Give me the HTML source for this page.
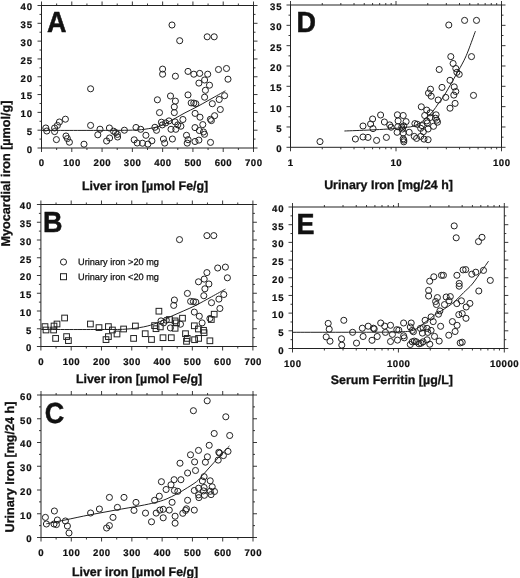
<!DOCTYPE html>
<html><head><meta charset="utf-8"><title>Figure</title>
<style>html,body{margin:0;padding:0;background:#fff}svg{display:block}text{font-family:"Liberation Sans",sans-serif;fill:#111;text-rendering:geometricPrecision}</style>
</head><body>
<svg width="520" height="578" viewBox="0 0 520 578">
<rect width="520" height="578" fill="#fff"/>
<rect x="41.5" y="5.5" width="212.0" height="142.5" fill="none" stroke="#222" stroke-width="1"/>
<line x1="37.50" y1="148.00" x2="41.50" y2="148.00" stroke="#222" stroke-width="0.9"/>
<line x1="253.50" y1="148.00" x2="257.50" y2="148.00" stroke="#222" stroke-width="0.9"/>
<text x="32.90" y="152.80" font-size="9.6" text-anchor="end" font-weight="bold" letter-spacing="0.9" stroke="#111" stroke-width="0.22">0</text>
<line x1="39.50" y1="139.09" x2="41.50" y2="139.09" stroke="#222" stroke-width="0.9"/>
<line x1="253.50" y1="139.09" x2="255.50" y2="139.09" stroke="#222" stroke-width="0.9"/>
<line x1="37.50" y1="130.19" x2="41.50" y2="130.19" stroke="#222" stroke-width="0.9"/>
<line x1="253.50" y1="130.19" x2="257.50" y2="130.19" stroke="#222" stroke-width="0.9"/>
<text x="32.90" y="134.99" font-size="9.6" text-anchor="end" font-weight="bold" letter-spacing="0.9" stroke="#111" stroke-width="0.22">5</text>
<line x1="39.50" y1="121.28" x2="41.50" y2="121.28" stroke="#222" stroke-width="0.9"/>
<line x1="253.50" y1="121.28" x2="255.50" y2="121.28" stroke="#222" stroke-width="0.9"/>
<line x1="37.50" y1="112.38" x2="41.50" y2="112.38" stroke="#222" stroke-width="0.9"/>
<line x1="253.50" y1="112.38" x2="257.50" y2="112.38" stroke="#222" stroke-width="0.9"/>
<text x="32.90" y="117.17" font-size="9.6" text-anchor="end" font-weight="bold" letter-spacing="0.9" stroke="#111" stroke-width="0.22">10</text>
<line x1="39.50" y1="103.47" x2="41.50" y2="103.47" stroke="#222" stroke-width="0.9"/>
<line x1="253.50" y1="103.47" x2="255.50" y2="103.47" stroke="#222" stroke-width="0.9"/>
<line x1="37.50" y1="94.56" x2="41.50" y2="94.56" stroke="#222" stroke-width="0.9"/>
<line x1="253.50" y1="94.56" x2="257.50" y2="94.56" stroke="#222" stroke-width="0.9"/>
<text x="32.90" y="99.36" font-size="9.6" text-anchor="end" font-weight="bold" letter-spacing="0.9" stroke="#111" stroke-width="0.22">15</text>
<line x1="39.50" y1="85.66" x2="41.50" y2="85.66" stroke="#222" stroke-width="0.9"/>
<line x1="253.50" y1="85.66" x2="255.50" y2="85.66" stroke="#222" stroke-width="0.9"/>
<line x1="37.50" y1="76.75" x2="41.50" y2="76.75" stroke="#222" stroke-width="0.9"/>
<line x1="253.50" y1="76.75" x2="257.50" y2="76.75" stroke="#222" stroke-width="0.9"/>
<text x="32.90" y="81.55" font-size="9.6" text-anchor="end" font-weight="bold" letter-spacing="0.9" stroke="#111" stroke-width="0.22">20</text>
<line x1="39.50" y1="67.84" x2="41.50" y2="67.84" stroke="#222" stroke-width="0.9"/>
<line x1="253.50" y1="67.84" x2="255.50" y2="67.84" stroke="#222" stroke-width="0.9"/>
<line x1="37.50" y1="58.94" x2="41.50" y2="58.94" stroke="#222" stroke-width="0.9"/>
<line x1="253.50" y1="58.94" x2="257.50" y2="58.94" stroke="#222" stroke-width="0.9"/>
<text x="32.90" y="63.74" font-size="9.6" text-anchor="end" font-weight="bold" letter-spacing="0.9" stroke="#111" stroke-width="0.22">25</text>
<line x1="39.50" y1="50.03" x2="41.50" y2="50.03" stroke="#222" stroke-width="0.9"/>
<line x1="253.50" y1="50.03" x2="255.50" y2="50.03" stroke="#222" stroke-width="0.9"/>
<line x1="37.50" y1="41.12" x2="41.50" y2="41.12" stroke="#222" stroke-width="0.9"/>
<line x1="253.50" y1="41.12" x2="257.50" y2="41.12" stroke="#222" stroke-width="0.9"/>
<text x="32.90" y="45.92" font-size="9.6" text-anchor="end" font-weight="bold" letter-spacing="0.9" stroke="#111" stroke-width="0.22">30</text>
<line x1="39.50" y1="32.22" x2="41.50" y2="32.22" stroke="#222" stroke-width="0.9"/>
<line x1="253.50" y1="32.22" x2="255.50" y2="32.22" stroke="#222" stroke-width="0.9"/>
<line x1="37.50" y1="23.31" x2="41.50" y2="23.31" stroke="#222" stroke-width="0.9"/>
<line x1="253.50" y1="23.31" x2="257.50" y2="23.31" stroke="#222" stroke-width="0.9"/>
<text x="32.90" y="28.11" font-size="9.6" text-anchor="end" font-weight="bold" letter-spacing="0.9" stroke="#111" stroke-width="0.22">35</text>
<line x1="39.50" y1="14.41" x2="41.50" y2="14.41" stroke="#222" stroke-width="0.9"/>
<line x1="253.50" y1="14.41" x2="255.50" y2="14.41" stroke="#222" stroke-width="0.9"/>
<line x1="37.50" y1="5.50" x2="41.50" y2="5.50" stroke="#222" stroke-width="0.9"/>
<line x1="253.50" y1="5.50" x2="257.50" y2="5.50" stroke="#222" stroke-width="0.9"/>
<text x="32.90" y="10.30" font-size="9.6" text-anchor="end" font-weight="bold" letter-spacing="0.9" stroke="#111" stroke-width="0.22">40</text>
<line x1="41.50" y1="1.50" x2="41.50" y2="5.50" stroke="#222" stroke-width="0.9"/>
<line x1="41.50" y1="148.00" x2="41.50" y2="152.00" stroke="#222" stroke-width="0.9"/>
<text x="41.75" y="166.30" font-size="9.6" text-anchor="middle" font-weight="bold" letter-spacing="0.5" stroke="#111" stroke-width="0.22">0</text>
<line x1="56.64" y1="3.50" x2="56.64" y2="5.50" stroke="#222" stroke-width="0.9"/>
<line x1="56.64" y1="148.00" x2="56.64" y2="150.00" stroke="#222" stroke-width="0.9"/>
<line x1="71.79" y1="1.50" x2="71.79" y2="5.50" stroke="#222" stroke-width="0.9"/>
<line x1="71.79" y1="148.00" x2="71.79" y2="152.00" stroke="#222" stroke-width="0.9"/>
<text x="72.04" y="166.30" font-size="9.6" text-anchor="middle" font-weight="bold" letter-spacing="0.5" stroke="#111" stroke-width="0.22">100</text>
<line x1="86.93" y1="3.50" x2="86.93" y2="5.50" stroke="#222" stroke-width="0.9"/>
<line x1="86.93" y1="148.00" x2="86.93" y2="150.00" stroke="#222" stroke-width="0.9"/>
<line x1="102.07" y1="1.50" x2="102.07" y2="5.50" stroke="#222" stroke-width="0.9"/>
<line x1="102.07" y1="148.00" x2="102.07" y2="152.00" stroke="#222" stroke-width="0.9"/>
<text x="102.32" y="166.30" font-size="9.6" text-anchor="middle" font-weight="bold" letter-spacing="0.5" stroke="#111" stroke-width="0.22">200</text>
<line x1="117.21" y1="3.50" x2="117.21" y2="5.50" stroke="#222" stroke-width="0.9"/>
<line x1="117.21" y1="148.00" x2="117.21" y2="150.00" stroke="#222" stroke-width="0.9"/>
<line x1="132.36" y1="1.50" x2="132.36" y2="5.50" stroke="#222" stroke-width="0.9"/>
<line x1="132.36" y1="148.00" x2="132.36" y2="152.00" stroke="#222" stroke-width="0.9"/>
<text x="132.61" y="166.30" font-size="9.6" text-anchor="middle" font-weight="bold" letter-spacing="0.5" stroke="#111" stroke-width="0.22">300</text>
<line x1="147.50" y1="3.50" x2="147.50" y2="5.50" stroke="#222" stroke-width="0.9"/>
<line x1="147.50" y1="148.00" x2="147.50" y2="150.00" stroke="#222" stroke-width="0.9"/>
<line x1="162.64" y1="1.50" x2="162.64" y2="5.50" stroke="#222" stroke-width="0.9"/>
<line x1="162.64" y1="148.00" x2="162.64" y2="152.00" stroke="#222" stroke-width="0.9"/>
<text x="162.89" y="166.30" font-size="9.6" text-anchor="middle" font-weight="bold" letter-spacing="0.5" stroke="#111" stroke-width="0.22">400</text>
<line x1="177.79" y1="3.50" x2="177.79" y2="5.50" stroke="#222" stroke-width="0.9"/>
<line x1="177.79" y1="148.00" x2="177.79" y2="150.00" stroke="#222" stroke-width="0.9"/>
<line x1="192.93" y1="1.50" x2="192.93" y2="5.50" stroke="#222" stroke-width="0.9"/>
<line x1="192.93" y1="148.00" x2="192.93" y2="152.00" stroke="#222" stroke-width="0.9"/>
<text x="193.18" y="166.30" font-size="9.6" text-anchor="middle" font-weight="bold" letter-spacing="0.5" stroke="#111" stroke-width="0.22">500</text>
<line x1="208.07" y1="3.50" x2="208.07" y2="5.50" stroke="#222" stroke-width="0.9"/>
<line x1="208.07" y1="148.00" x2="208.07" y2="150.00" stroke="#222" stroke-width="0.9"/>
<line x1="223.21" y1="1.50" x2="223.21" y2="5.50" stroke="#222" stroke-width="0.9"/>
<line x1="223.21" y1="148.00" x2="223.21" y2="152.00" stroke="#222" stroke-width="0.9"/>
<text x="223.46" y="166.30" font-size="9.6" text-anchor="middle" font-weight="bold" letter-spacing="0.5" stroke="#111" stroke-width="0.22">600</text>
<line x1="238.36" y1="3.50" x2="238.36" y2="5.50" stroke="#222" stroke-width="0.9"/>
<line x1="238.36" y1="148.00" x2="238.36" y2="150.00" stroke="#222" stroke-width="0.9"/>
<line x1="253.50" y1="1.50" x2="253.50" y2="5.50" stroke="#222" stroke-width="0.9"/>
<line x1="253.50" y1="148.00" x2="253.50" y2="152.00" stroke="#222" stroke-width="0.9"/>
<text x="253.75" y="166.30" font-size="9.6" text-anchor="middle" font-weight="bold" letter-spacing="0.5" stroke="#111" stroke-width="0.22">700</text>
<text transform="translate(46.90,31.90) scale(0.93,1)" font-size="29" text-anchor="start" font-weight="bold"  stroke="#111" stroke-width="0.5">A</text>
<text x="145.10" y="190.30" font-size="12.4" text-anchor="middle" font-weight="bold"  stroke="#111" stroke-width="0.3">Liver iron [µmol Fe/g]</text>
<circle cx="90.60" cy="88.80" r="3.05" fill="none" stroke="#222" stroke-width="1"/>
<circle cx="45.80" cy="128.00" r="3.05" fill="none" stroke="#222" stroke-width="1"/>
<circle cx="46.80" cy="131.00" r="3.05" fill="none" stroke="#222" stroke-width="1"/>
<circle cx="54.60" cy="128.00" r="3.05" fill="none" stroke="#222" stroke-width="1"/>
<circle cx="54.60" cy="131.60" r="3.05" fill="none" stroke="#222" stroke-width="1"/>
<circle cx="57.40" cy="125.40" r="3.05" fill="none" stroke="#222" stroke-width="1"/>
<circle cx="59.40" cy="122.00" r="3.05" fill="none" stroke="#222" stroke-width="1"/>
<circle cx="65.40" cy="119.20" r="3.05" fill="none" stroke="#222" stroke-width="1"/>
<circle cx="56.40" cy="139.60" r="3.05" fill="none" stroke="#222" stroke-width="1"/>
<circle cx="66.00" cy="136.00" r="3.05" fill="none" stroke="#222" stroke-width="1"/>
<circle cx="67.40" cy="138.60" r="3.05" fill="none" stroke="#222" stroke-width="1"/>
<circle cx="69.40" cy="142.20" r="3.05" fill="none" stroke="#222" stroke-width="1"/>
<circle cx="84.00" cy="144.20" r="3.05" fill="none" stroke="#222" stroke-width="1"/>
<circle cx="90.60" cy="125.40" r="3.05" fill="none" stroke="#222" stroke-width="1"/>
<circle cx="100.00" cy="129.20" r="3.05" fill="none" stroke="#222" stroke-width="1"/>
<circle cx="97.80" cy="134.80" r="3.05" fill="none" stroke="#222" stroke-width="1"/>
<circle cx="109.40" cy="128.00" r="3.05" fill="none" stroke="#222" stroke-width="1"/>
<circle cx="113.60" cy="131.20" r="3.05" fill="none" stroke="#222" stroke-width="1"/>
<circle cx="115.60" cy="132.60" r="3.05" fill="none" stroke="#222" stroke-width="1"/>
<circle cx="117.40" cy="134.40" r="3.05" fill="none" stroke="#222" stroke-width="1"/>
<circle cx="117.60" cy="137.00" r="3.05" fill="none" stroke="#222" stroke-width="1"/>
<circle cx="109.60" cy="138.00" r="3.05" fill="none" stroke="#222" stroke-width="1"/>
<circle cx="106.60" cy="141.00" r="3.05" fill="none" stroke="#222" stroke-width="1"/>
<circle cx="124.40" cy="130.20" r="3.05" fill="none" stroke="#222" stroke-width="1"/>
<circle cx="136.00" cy="127.50" r="3.05" fill="none" stroke="#222" stroke-width="1"/>
<circle cx="140.70" cy="129.30" r="3.05" fill="none" stroke="#222" stroke-width="1"/>
<circle cx="134.20" cy="139.80" r="3.05" fill="none" stroke="#222" stroke-width="1"/>
<circle cx="137.20" cy="143.00" r="3.05" fill="none" stroke="#222" stroke-width="1"/>
<circle cx="142.50" cy="143.20" r="3.05" fill="none" stroke="#222" stroke-width="1"/>
<circle cx="145.90" cy="135.30" r="3.05" fill="none" stroke="#222" stroke-width="1"/>
<circle cx="147.90" cy="144.10" r="3.05" fill="none" stroke="#222" stroke-width="1"/>
<circle cx="151.90" cy="140.80" r="3.05" fill="none" stroke="#222" stroke-width="1"/>
<circle cx="154.90" cy="127.30" r="3.05" fill="none" stroke="#222" stroke-width="1"/>
<circle cx="156.50" cy="130.30" r="3.05" fill="none" stroke="#222" stroke-width="1"/>
<circle cx="161.40" cy="122.20" r="3.05" fill="none" stroke="#222" stroke-width="1"/>
<circle cx="162.30" cy="124.90" r="3.05" fill="none" stroke="#222" stroke-width="1"/>
<circle cx="165.70" cy="122.90" r="3.05" fill="none" stroke="#222" stroke-width="1"/>
<circle cx="169.00" cy="120.90" r="3.05" fill="none" stroke="#222" stroke-width="1"/>
<circle cx="163.40" cy="139.00" r="3.05" fill="none" stroke="#222" stroke-width="1"/>
<circle cx="164.70" cy="143.10" r="3.05" fill="none" stroke="#222" stroke-width="1"/>
<circle cx="172.40" cy="139.00" r="3.05" fill="none" stroke="#222" stroke-width="1"/>
<circle cx="171.00" cy="129.30" r="3.05" fill="none" stroke="#222" stroke-width="1"/>
<circle cx="175.80" cy="129.30" r="3.05" fill="none" stroke="#222" stroke-width="1"/>
<circle cx="175.10" cy="121.90" r="3.05" fill="none" stroke="#222" stroke-width="1"/>
<circle cx="177.80" cy="124.90" r="3.05" fill="none" stroke="#222" stroke-width="1"/>
<circle cx="180.90" cy="126.20" r="3.05" fill="none" stroke="#222" stroke-width="1"/>
<circle cx="182.90" cy="119.50" r="3.05" fill="none" stroke="#222" stroke-width="1"/>
<circle cx="186.50" cy="135.30" r="3.05" fill="none" stroke="#222" stroke-width="1"/>
<circle cx="188.10" cy="139.70" r="3.05" fill="none" stroke="#222" stroke-width="1"/>
<circle cx="187.20" cy="143.10" r="3.05" fill="none" stroke="#222" stroke-width="1"/>
<circle cx="195.00" cy="127.60" r="3.05" fill="none" stroke="#222" stroke-width="1"/>
<circle cx="195.00" cy="141.50" r="3.05" fill="none" stroke="#222" stroke-width="1"/>
<circle cx="198.90" cy="140.10" r="3.05" fill="none" stroke="#222" stroke-width="1"/>
<circle cx="199.30" cy="130.50" r="3.05" fill="none" stroke="#222" stroke-width="1"/>
<circle cx="202.80" cy="124.60" r="3.05" fill="none" stroke="#222" stroke-width="1"/>
<circle cx="203.50" cy="132.00" r="3.05" fill="none" stroke="#222" stroke-width="1"/>
<circle cx="204.50" cy="134.30" r="3.05" fill="none" stroke="#222" stroke-width="1"/>
<circle cx="210.50" cy="142.40" r="3.05" fill="none" stroke="#222" stroke-width="1"/>
<circle cx="172.00" cy="25.00" r="3.05" fill="none" stroke="#222" stroke-width="1"/>
<circle cx="179.70" cy="40.70" r="3.05" fill="none" stroke="#222" stroke-width="1"/>
<circle cx="207.20" cy="36.80" r="3.05" fill="none" stroke="#222" stroke-width="1"/>
<circle cx="214.20" cy="36.80" r="3.05" fill="none" stroke="#222" stroke-width="1"/>
<circle cx="162.60" cy="69.10" r="3.05" fill="none" stroke="#222" stroke-width="1"/>
<circle cx="162.60" cy="74.20" r="3.05" fill="none" stroke="#222" stroke-width="1"/>
<circle cx="175.40" cy="76.20" r="3.05" fill="none" stroke="#222" stroke-width="1"/>
<circle cx="188.00" cy="71.40" r="3.05" fill="none" stroke="#222" stroke-width="1"/>
<circle cx="193.80" cy="74.20" r="3.05" fill="none" stroke="#222" stroke-width="1"/>
<circle cx="199.70" cy="73.40" r="3.05" fill="none" stroke="#222" stroke-width="1"/>
<circle cx="207.70" cy="74.20" r="3.05" fill="none" stroke="#222" stroke-width="1"/>
<circle cx="204.60" cy="80.00" r="3.05" fill="none" stroke="#222" stroke-width="1"/>
<circle cx="198.90" cy="83.10" r="3.05" fill="none" stroke="#222" stroke-width="1"/>
<circle cx="209.50" cy="85.20" r="3.05" fill="none" stroke="#222" stroke-width="1"/>
<circle cx="205.40" cy="90.30" r="3.05" fill="none" stroke="#222" stroke-width="1"/>
<circle cx="204.60" cy="97.20" r="3.05" fill="none" stroke="#222" stroke-width="1"/>
<circle cx="218.50" cy="69.50" r="3.05" fill="none" stroke="#222" stroke-width="1"/>
<circle cx="226.50" cy="68.50" r="3.05" fill="none" stroke="#222" stroke-width="1"/>
<circle cx="228.00" cy="79.20" r="3.05" fill="none" stroke="#222" stroke-width="1"/>
<circle cx="224.60" cy="95.70" r="3.05" fill="none" stroke="#222" stroke-width="1"/>
<circle cx="219.20" cy="99.50" r="3.05" fill="none" stroke="#222" stroke-width="1"/>
<circle cx="212.30" cy="103.70" r="3.05" fill="none" stroke="#222" stroke-width="1"/>
<circle cx="220.30" cy="109.50" r="3.05" fill="none" stroke="#222" stroke-width="1"/>
<circle cx="214.60" cy="115.70" r="3.05" fill="none" stroke="#222" stroke-width="1"/>
<circle cx="210.40" cy="119.30" r="3.05" fill="none" stroke="#222" stroke-width="1"/>
<circle cx="211.40" cy="120.60" r="3.05" fill="none" stroke="#222" stroke-width="1"/>
<circle cx="188.00" cy="94.90" r="3.05" fill="none" stroke="#222" stroke-width="1"/>
<circle cx="191.20" cy="102.90" r="3.05" fill="none" stroke="#222" stroke-width="1"/>
<circle cx="193.80" cy="103.10" r="3.05" fill="none" stroke="#222" stroke-width="1"/>
<circle cx="195.80" cy="103.70" r="3.05" fill="none" stroke="#222" stroke-width="1"/>
<circle cx="195.10" cy="113.40" r="3.05" fill="none" stroke="#222" stroke-width="1"/>
<circle cx="200.00" cy="117.20" r="3.05" fill="none" stroke="#222" stroke-width="1"/>
<circle cx="170.50" cy="96.00" r="3.05" fill="none" stroke="#222" stroke-width="1"/>
<circle cx="175.40" cy="101.10" r="3.05" fill="none" stroke="#222" stroke-width="1"/>
<circle cx="174.30" cy="106.90" r="3.05" fill="none" stroke="#222" stroke-width="1"/>
<circle cx="174.30" cy="112.60" r="3.05" fill="none" stroke="#222" stroke-width="1"/>
<circle cx="157.40" cy="99.80" r="3.05" fill="none" stroke="#222" stroke-width="1"/>
<circle cx="159.50" cy="112.60" r="3.05" fill="none" stroke="#222" stroke-width="1"/>
<path d="M42.00,130.40 C51.67,130.40 85.33,130.43 100.00,130.40 C114.67,130.37 122.50,130.40 130.00,130.20 C137.50,130.00 140.00,129.90 145.00,129.20 C150.00,128.50 155.33,127.62 160.00,126.00 C164.67,124.38 168.83,121.70 173.00,119.50 C177.17,117.30 181.13,114.85 185.00,112.80 C188.87,110.75 192.03,109.42 196.20,107.20 C200.37,104.98 205.13,102.23 210.00,99.50 C214.87,96.77 222.83,92.25 225.40,90.80" fill="none" stroke="#222" stroke-width="1"/>
<rect x="40.9" y="204.5" width="212.0" height="142.0" fill="none" stroke="#222" stroke-width="1"/>
<line x1="36.90" y1="346.50" x2="40.90" y2="346.50" stroke="#222" stroke-width="0.9"/>
<line x1="252.90" y1="346.50" x2="256.90" y2="346.50" stroke="#222" stroke-width="0.9"/>
<text x="32.30" y="351.30" font-size="9.6" text-anchor="end" font-weight="bold" letter-spacing="0.9" stroke="#111" stroke-width="0.22">0</text>
<line x1="38.90" y1="337.62" x2="40.90" y2="337.62" stroke="#222" stroke-width="0.9"/>
<line x1="252.90" y1="337.62" x2="254.90" y2="337.62" stroke="#222" stroke-width="0.9"/>
<line x1="36.90" y1="328.75" x2="40.90" y2="328.75" stroke="#222" stroke-width="0.9"/>
<line x1="252.90" y1="328.75" x2="256.90" y2="328.75" stroke="#222" stroke-width="0.9"/>
<text x="32.30" y="333.55" font-size="9.6" text-anchor="end" font-weight="bold" letter-spacing="0.9" stroke="#111" stroke-width="0.22">5</text>
<line x1="38.90" y1="319.88" x2="40.90" y2="319.88" stroke="#222" stroke-width="0.9"/>
<line x1="252.90" y1="319.88" x2="254.90" y2="319.88" stroke="#222" stroke-width="0.9"/>
<line x1="36.90" y1="311.00" x2="40.90" y2="311.00" stroke="#222" stroke-width="0.9"/>
<line x1="252.90" y1="311.00" x2="256.90" y2="311.00" stroke="#222" stroke-width="0.9"/>
<text x="32.30" y="315.80" font-size="9.6" text-anchor="end" font-weight="bold" letter-spacing="0.9" stroke="#111" stroke-width="0.22">10</text>
<line x1="38.90" y1="302.12" x2="40.90" y2="302.12" stroke="#222" stroke-width="0.9"/>
<line x1="252.90" y1="302.12" x2="254.90" y2="302.12" stroke="#222" stroke-width="0.9"/>
<line x1="36.90" y1="293.25" x2="40.90" y2="293.25" stroke="#222" stroke-width="0.9"/>
<line x1="252.90" y1="293.25" x2="256.90" y2="293.25" stroke="#222" stroke-width="0.9"/>
<text x="32.30" y="298.05" font-size="9.6" text-anchor="end" font-weight="bold" letter-spacing="0.9" stroke="#111" stroke-width="0.22">15</text>
<line x1="38.90" y1="284.38" x2="40.90" y2="284.38" stroke="#222" stroke-width="0.9"/>
<line x1="252.90" y1="284.38" x2="254.90" y2="284.38" stroke="#222" stroke-width="0.9"/>
<line x1="36.90" y1="275.50" x2="40.90" y2="275.50" stroke="#222" stroke-width="0.9"/>
<line x1="252.90" y1="275.50" x2="256.90" y2="275.50" stroke="#222" stroke-width="0.9"/>
<text x="32.30" y="280.30" font-size="9.6" text-anchor="end" font-weight="bold" letter-spacing="0.9" stroke="#111" stroke-width="0.22">20</text>
<line x1="38.90" y1="266.62" x2="40.90" y2="266.62" stroke="#222" stroke-width="0.9"/>
<line x1="252.90" y1="266.62" x2="254.90" y2="266.62" stroke="#222" stroke-width="0.9"/>
<line x1="36.90" y1="257.75" x2="40.90" y2="257.75" stroke="#222" stroke-width="0.9"/>
<line x1="252.90" y1="257.75" x2="256.90" y2="257.75" stroke="#222" stroke-width="0.9"/>
<text x="32.30" y="262.55" font-size="9.6" text-anchor="end" font-weight="bold" letter-spacing="0.9" stroke="#111" stroke-width="0.22">25</text>
<line x1="38.90" y1="248.88" x2="40.90" y2="248.88" stroke="#222" stroke-width="0.9"/>
<line x1="252.90" y1="248.88" x2="254.90" y2="248.88" stroke="#222" stroke-width="0.9"/>
<line x1="36.90" y1="240.00" x2="40.90" y2="240.00" stroke="#222" stroke-width="0.9"/>
<line x1="252.90" y1="240.00" x2="256.90" y2="240.00" stroke="#222" stroke-width="0.9"/>
<text x="32.30" y="244.80" font-size="9.6" text-anchor="end" font-weight="bold" letter-spacing="0.9" stroke="#111" stroke-width="0.22">30</text>
<line x1="38.90" y1="231.12" x2="40.90" y2="231.12" stroke="#222" stroke-width="0.9"/>
<line x1="252.90" y1="231.12" x2="254.90" y2="231.12" stroke="#222" stroke-width="0.9"/>
<line x1="36.90" y1="222.25" x2="40.90" y2="222.25" stroke="#222" stroke-width="0.9"/>
<line x1="252.90" y1="222.25" x2="256.90" y2="222.25" stroke="#222" stroke-width="0.9"/>
<text x="32.30" y="227.05" font-size="9.6" text-anchor="end" font-weight="bold" letter-spacing="0.9" stroke="#111" stroke-width="0.22">35</text>
<line x1="38.90" y1="213.38" x2="40.90" y2="213.38" stroke="#222" stroke-width="0.9"/>
<line x1="252.90" y1="213.38" x2="254.90" y2="213.38" stroke="#222" stroke-width="0.9"/>
<line x1="36.90" y1="204.50" x2="40.90" y2="204.50" stroke="#222" stroke-width="0.9"/>
<line x1="252.90" y1="204.50" x2="256.90" y2="204.50" stroke="#222" stroke-width="0.9"/>
<text x="32.30" y="209.30" font-size="9.6" text-anchor="end" font-weight="bold" letter-spacing="0.9" stroke="#111" stroke-width="0.22">40</text>
<line x1="40.90" y1="200.50" x2="40.90" y2="204.50" stroke="#222" stroke-width="0.9"/>
<line x1="40.90" y1="346.50" x2="40.90" y2="350.50" stroke="#222" stroke-width="0.9"/>
<text x="41.15" y="364.80" font-size="9.6" text-anchor="middle" font-weight="bold" letter-spacing="0.5" stroke="#111" stroke-width="0.22">0</text>
<line x1="56.04" y1="202.50" x2="56.04" y2="204.50" stroke="#222" stroke-width="0.9"/>
<line x1="56.04" y1="346.50" x2="56.04" y2="348.50" stroke="#222" stroke-width="0.9"/>
<line x1="71.19" y1="200.50" x2="71.19" y2="204.50" stroke="#222" stroke-width="0.9"/>
<line x1="71.19" y1="346.50" x2="71.19" y2="350.50" stroke="#222" stroke-width="0.9"/>
<text x="71.44" y="364.80" font-size="9.6" text-anchor="middle" font-weight="bold" letter-spacing="0.5" stroke="#111" stroke-width="0.22">100</text>
<line x1="86.33" y1="202.50" x2="86.33" y2="204.50" stroke="#222" stroke-width="0.9"/>
<line x1="86.33" y1="346.50" x2="86.33" y2="348.50" stroke="#222" stroke-width="0.9"/>
<line x1="101.47" y1="200.50" x2="101.47" y2="204.50" stroke="#222" stroke-width="0.9"/>
<line x1="101.47" y1="346.50" x2="101.47" y2="350.50" stroke="#222" stroke-width="0.9"/>
<text x="101.72" y="364.80" font-size="9.6" text-anchor="middle" font-weight="bold" letter-spacing="0.5" stroke="#111" stroke-width="0.22">200</text>
<line x1="116.61" y1="202.50" x2="116.61" y2="204.50" stroke="#222" stroke-width="0.9"/>
<line x1="116.61" y1="346.50" x2="116.61" y2="348.50" stroke="#222" stroke-width="0.9"/>
<line x1="131.76" y1="200.50" x2="131.76" y2="204.50" stroke="#222" stroke-width="0.9"/>
<line x1="131.76" y1="346.50" x2="131.76" y2="350.50" stroke="#222" stroke-width="0.9"/>
<text x="132.01" y="364.80" font-size="9.6" text-anchor="middle" font-weight="bold" letter-spacing="0.5" stroke="#111" stroke-width="0.22">300</text>
<line x1="146.90" y1="202.50" x2="146.90" y2="204.50" stroke="#222" stroke-width="0.9"/>
<line x1="146.90" y1="346.50" x2="146.90" y2="348.50" stroke="#222" stroke-width="0.9"/>
<line x1="162.04" y1="200.50" x2="162.04" y2="204.50" stroke="#222" stroke-width="0.9"/>
<line x1="162.04" y1="346.50" x2="162.04" y2="350.50" stroke="#222" stroke-width="0.9"/>
<text x="162.29" y="364.80" font-size="9.6" text-anchor="middle" font-weight="bold" letter-spacing="0.5" stroke="#111" stroke-width="0.22">400</text>
<line x1="177.19" y1="202.50" x2="177.19" y2="204.50" stroke="#222" stroke-width="0.9"/>
<line x1="177.19" y1="346.50" x2="177.19" y2="348.50" stroke="#222" stroke-width="0.9"/>
<line x1="192.33" y1="200.50" x2="192.33" y2="204.50" stroke="#222" stroke-width="0.9"/>
<line x1="192.33" y1="346.50" x2="192.33" y2="350.50" stroke="#222" stroke-width="0.9"/>
<text x="192.58" y="364.80" font-size="9.6" text-anchor="middle" font-weight="bold" letter-spacing="0.5" stroke="#111" stroke-width="0.22">500</text>
<line x1="207.47" y1="202.50" x2="207.47" y2="204.50" stroke="#222" stroke-width="0.9"/>
<line x1="207.47" y1="346.50" x2="207.47" y2="348.50" stroke="#222" stroke-width="0.9"/>
<line x1="222.61" y1="200.50" x2="222.61" y2="204.50" stroke="#222" stroke-width="0.9"/>
<line x1="222.61" y1="346.50" x2="222.61" y2="350.50" stroke="#222" stroke-width="0.9"/>
<text x="222.86" y="364.80" font-size="9.6" text-anchor="middle" font-weight="bold" letter-spacing="0.5" stroke="#111" stroke-width="0.22">600</text>
<line x1="237.76" y1="202.50" x2="237.76" y2="204.50" stroke="#222" stroke-width="0.9"/>
<line x1="237.76" y1="346.50" x2="237.76" y2="348.50" stroke="#222" stroke-width="0.9"/>
<line x1="252.90" y1="200.50" x2="252.90" y2="204.50" stroke="#222" stroke-width="0.9"/>
<line x1="252.90" y1="346.50" x2="252.90" y2="350.50" stroke="#222" stroke-width="0.9"/>
<text x="253.15" y="364.80" font-size="9.6" text-anchor="middle" font-weight="bold" letter-spacing="0.5" stroke="#111" stroke-width="0.22">700</text>
<text transform="translate(43.00,231.50) scale(0.93,1)" font-size="29" text-anchor="start" font-weight="bold"  stroke="#111" stroke-width="0.5">B</text>
<text x="139.10" y="383.30" font-size="12.4" text-anchor="middle" font-weight="bold"  stroke="#111" stroke-width="0.3">Liver iron [µmol Fe/g]</text>
<circle cx="174.40" cy="300.00" r="3.05" fill="none" stroke="#222" stroke-width="1"/>
<circle cx="173.70" cy="305.40" r="3.05" fill="none" stroke="#222" stroke-width="1"/>
<circle cx="161.00" cy="320.90" r="3.05" fill="none" stroke="#222" stroke-width="1"/>
<circle cx="163.60" cy="322.90" r="3.05" fill="none" stroke="#222" stroke-width="1"/>
<circle cx="166.30" cy="320.20" r="3.05" fill="none" stroke="#222" stroke-width="1"/>
<circle cx="170.40" cy="327.90" r="3.05" fill="none" stroke="#222" stroke-width="1"/>
<circle cx="180.50" cy="324.20" r="3.05" fill="none" stroke="#222" stroke-width="1"/>
<circle cx="190.60" cy="301.40" r="3.05" fill="none" stroke="#222" stroke-width="1"/>
<circle cx="193.40" cy="301.60" r="3.05" fill="none" stroke="#222" stroke-width="1"/>
<circle cx="195.80" cy="302.10" r="3.05" fill="none" stroke="#222" stroke-width="1"/>
<circle cx="194.30" cy="312.10" r="3.05" fill="none" stroke="#222" stroke-width="1"/>
<circle cx="199.30" cy="316.20" r="3.05" fill="none" stroke="#222" stroke-width="1"/>
<circle cx="202.10" cy="322.90" r="3.05" fill="none" stroke="#222" stroke-width="1"/>
<circle cx="211.50" cy="302.70" r="3.05" fill="none" stroke="#222" stroke-width="1"/>
<circle cx="218.90" cy="299.10" r="3.05" fill="none" stroke="#222" stroke-width="1"/>
<circle cx="219.90" cy="308.50" r="3.05" fill="none" stroke="#222" stroke-width="1"/>
<circle cx="209.90" cy="318.50" r="3.05" fill="none" stroke="#222" stroke-width="1"/>
<circle cx="217.70" cy="268.00" r="3.05" fill="none" stroke="#222" stroke-width="1"/>
<circle cx="225.40" cy="267.10" r="3.05" fill="none" stroke="#222" stroke-width="1"/>
<circle cx="227.40" cy="277.80" r="3.05" fill="none" stroke="#222" stroke-width="1"/>
<circle cx="206.90" cy="272.60" r="3.05" fill="none" stroke="#222" stroke-width="1"/>
<circle cx="204.20" cy="279.10" r="3.05" fill="none" stroke="#222" stroke-width="1"/>
<circle cx="198.50" cy="281.80" r="3.05" fill="none" stroke="#222" stroke-width="1"/>
<circle cx="208.90" cy="284.00" r="3.05" fill="none" stroke="#222" stroke-width="1"/>
<circle cx="204.90" cy="288.80" r="3.05" fill="none" stroke="#222" stroke-width="1"/>
<circle cx="203.80" cy="295.70" r="3.05" fill="none" stroke="#222" stroke-width="1"/>
<circle cx="187.40" cy="293.40" r="3.05" fill="none" stroke="#222" stroke-width="1"/>
<circle cx="223.80" cy="294.50" r="3.05" fill="none" stroke="#222" stroke-width="1"/>
<circle cx="179.50" cy="239.60" r="3.05" fill="none" stroke="#222" stroke-width="1"/>
<circle cx="206.90" cy="235.60" r="3.05" fill="none" stroke="#222" stroke-width="1"/>
<circle cx="213.80" cy="235.60" r="3.05" fill="none" stroke="#222" stroke-width="1"/>
<rect x="42.15" y="323.75" width="5.7" height="5.7" fill="none" stroke="#222" stroke-width="1"/>
<rect x="43.15" y="327.15" width="5.7" height="5.7" fill="none" stroke="#222" stroke-width="1"/>
<rect x="51.15" y="323.15" width="5.7" height="5.7" fill="none" stroke="#222" stroke-width="1"/>
<rect x="50.75" y="327.15" width="5.7" height="5.7" fill="none" stroke="#222" stroke-width="1"/>
<rect x="54.15" y="321.15" width="5.7" height="5.7" fill="none" stroke="#222" stroke-width="1"/>
<rect x="61.75" y="315.15" width="5.7" height="5.7" fill="none" stroke="#222" stroke-width="1"/>
<rect x="52.75" y="335.55" width="5.7" height="5.7" fill="none" stroke="#222" stroke-width="1"/>
<rect x="63.75" y="333.75" width="5.7" height="5.7" fill="none" stroke="#222" stroke-width="1"/>
<rect x="65.55" y="337.75" width="5.7" height="5.7" fill="none" stroke="#222" stroke-width="1"/>
<rect x="87.55" y="321.15" width="5.7" height="5.7" fill="none" stroke="#222" stroke-width="1"/>
<rect x="96.15" y="324.75" width="5.7" height="5.7" fill="none" stroke="#222" stroke-width="1"/>
<rect x="105.55" y="323.75" width="5.7" height="5.7" fill="none" stroke="#222" stroke-width="1"/>
<rect x="109.55" y="327.15" width="5.7" height="5.7" fill="none" stroke="#222" stroke-width="1"/>
<rect x="114.15" y="331.15" width="5.7" height="5.7" fill="none" stroke="#222" stroke-width="1"/>
<rect x="105.55" y="333.75" width="5.7" height="5.7" fill="none" stroke="#222" stroke-width="1"/>
<rect x="103.15" y="336.75" width="5.7" height="5.7" fill="none" stroke="#222" stroke-width="1"/>
<rect x="120.75" y="326.15" width="5.7" height="5.7" fill="none" stroke="#222" stroke-width="1"/>
<rect x="132.55" y="323.15" width="5.7" height="5.7" fill="none" stroke="#222" stroke-width="1"/>
<rect x="130.75" y="335.55" width="5.7" height="5.7" fill="none" stroke="#222" stroke-width="1"/>
<rect x="142.35" y="330.85" width="5.7" height="5.7" fill="none" stroke="#222" stroke-width="1"/>
<rect x="148.65" y="336.65" width="5.7" height="5.7" fill="none" stroke="#222" stroke-width="1"/>
<rect x="156.05" y="308.35" width="5.7" height="5.7" fill="none" stroke="#222" stroke-width="1"/>
<rect x="151.75" y="322.75" width="5.7" height="5.7" fill="none" stroke="#222" stroke-width="1"/>
<rect x="153.15" y="325.85" width="5.7" height="5.7" fill="none" stroke="#222" stroke-width="1"/>
<rect x="157.45" y="324.05" width="5.7" height="5.7" fill="none" stroke="#222" stroke-width="1"/>
<rect x="160.15" y="334.85" width="5.7" height="5.7" fill="none" stroke="#222" stroke-width="1"/>
<rect x="168.45" y="334.85" width="5.7" height="5.7" fill="none" stroke="#222" stroke-width="1"/>
<rect x="166.65" y="316.65" width="5.7" height="5.7" fill="none" stroke="#222" stroke-width="1"/>
<rect x="172.25" y="318.05" width="5.7" height="5.7" fill="none" stroke="#222" stroke-width="1"/>
<rect x="173.55" y="320.05" width="5.7" height="5.7" fill="none" stroke="#222" stroke-width="1"/>
<rect x="172.25" y="325.45" width="5.7" height="5.7" fill="none" stroke="#222" stroke-width="1"/>
<rect x="179.65" y="315.35" width="5.7" height="5.7" fill="none" stroke="#222" stroke-width="1"/>
<rect x="182.65" y="330.85" width="5.7" height="5.7" fill="none" stroke="#222" stroke-width="1"/>
<rect x="184.35" y="335.55" width="5.7" height="5.7" fill="none" stroke="#222" stroke-width="1"/>
<rect x="183.65" y="338.45" width="5.7" height="5.7" fill="none" stroke="#222" stroke-width="1"/>
<rect x="191.45" y="322.95" width="5.7" height="5.7" fill="none" stroke="#222" stroke-width="1"/>
<rect x="191.75" y="336.85" width="5.7" height="5.7" fill="none" stroke="#222" stroke-width="1"/>
<rect x="195.75" y="335.55" width="5.7" height="5.7" fill="none" stroke="#222" stroke-width="1"/>
<rect x="195.55" y="326.15" width="5.7" height="5.7" fill="none" stroke="#222" stroke-width="1"/>
<rect x="211.35" y="311.35" width="5.7" height="5.7" fill="none" stroke="#222" stroke-width="1"/>
<rect x="208.45" y="316.65" width="5.7" height="5.7" fill="none" stroke="#222" stroke-width="1"/>
<rect x="200.65" y="327.45" width="5.7" height="5.7" fill="none" stroke="#222" stroke-width="1"/>
<rect x="201.25" y="329.85" width="5.7" height="5.7" fill="none" stroke="#222" stroke-width="1"/>
<rect x="207.05" y="337.95" width="5.7" height="5.7" fill="none" stroke="#222" stroke-width="1"/>
<path d="M41.40,329.50 C51.17,329.50 86.07,329.55 100.00,329.50 C113.93,329.45 117.75,329.63 125.00,329.20 C132.25,328.77 138.18,327.93 143.50,326.90 C148.82,325.87 152.45,324.68 156.90,323.00 C161.35,321.32 165.72,318.83 170.20,316.80 C174.68,314.77 179.47,312.73 183.80,310.80 C188.13,308.87 191.58,307.53 196.20,305.20 C200.82,302.87 206.63,299.48 211.50,296.80 C216.37,294.12 223.08,290.38 225.40,289.10" fill="none" stroke="#222" stroke-width="1"/>
<circle cx="63.50" cy="262.00" r="3.05" fill="none" stroke="#222" stroke-width="1"/>
<rect x="60.50" y="273.70" width="6.0" height="6.0" fill="none" stroke="#222" stroke-width="1"/>
<text x="78.00" y="265.20" font-size="9.2" text-anchor="start" font-weight="normal" stroke="#111" stroke-width="0.25">Urinary iron &gt;20 mg</text>
<text x="78.00" y="280.00" font-size="9.2" text-anchor="start" font-weight="normal" stroke="#111" stroke-width="0.25">Urinary iron &lt;20 mg</text>
<rect x="41.0" y="395.0" width="212.0" height="142.5" fill="none" stroke="#222" stroke-width="1"/>
<line x1="37.00" y1="537.50" x2="41.00" y2="537.50" stroke="#222" stroke-width="0.9"/>
<line x1="253.00" y1="537.50" x2="257.00" y2="537.50" stroke="#222" stroke-width="0.9"/>
<text x="32.40" y="542.30" font-size="9.6" text-anchor="end" font-weight="bold" letter-spacing="0.9" stroke="#111" stroke-width="0.22">0</text>
<line x1="39.00" y1="525.62" x2="41.00" y2="525.62" stroke="#222" stroke-width="0.9"/>
<line x1="253.00" y1="525.62" x2="255.00" y2="525.62" stroke="#222" stroke-width="0.9"/>
<line x1="37.00" y1="513.75" x2="41.00" y2="513.75" stroke="#222" stroke-width="0.9"/>
<line x1="253.00" y1="513.75" x2="257.00" y2="513.75" stroke="#222" stroke-width="0.9"/>
<text x="32.40" y="518.55" font-size="9.6" text-anchor="end" font-weight="bold" letter-spacing="0.9" stroke="#111" stroke-width="0.22">10</text>
<line x1="39.00" y1="501.88" x2="41.00" y2="501.88" stroke="#222" stroke-width="0.9"/>
<line x1="253.00" y1="501.88" x2="255.00" y2="501.88" stroke="#222" stroke-width="0.9"/>
<line x1="37.00" y1="490.00" x2="41.00" y2="490.00" stroke="#222" stroke-width="0.9"/>
<line x1="253.00" y1="490.00" x2="257.00" y2="490.00" stroke="#222" stroke-width="0.9"/>
<text x="32.40" y="494.80" font-size="9.6" text-anchor="end" font-weight="bold" letter-spacing="0.9" stroke="#111" stroke-width="0.22">20</text>
<line x1="39.00" y1="478.12" x2="41.00" y2="478.12" stroke="#222" stroke-width="0.9"/>
<line x1="253.00" y1="478.12" x2="255.00" y2="478.12" stroke="#222" stroke-width="0.9"/>
<line x1="37.00" y1="466.25" x2="41.00" y2="466.25" stroke="#222" stroke-width="0.9"/>
<line x1="253.00" y1="466.25" x2="257.00" y2="466.25" stroke="#222" stroke-width="0.9"/>
<text x="32.40" y="471.05" font-size="9.6" text-anchor="end" font-weight="bold" letter-spacing="0.9" stroke="#111" stroke-width="0.22">30</text>
<line x1="39.00" y1="454.38" x2="41.00" y2="454.38" stroke="#222" stroke-width="0.9"/>
<line x1="253.00" y1="454.38" x2="255.00" y2="454.38" stroke="#222" stroke-width="0.9"/>
<line x1="37.00" y1="442.50" x2="41.00" y2="442.50" stroke="#222" stroke-width="0.9"/>
<line x1="253.00" y1="442.50" x2="257.00" y2="442.50" stroke="#222" stroke-width="0.9"/>
<text x="32.40" y="447.30" font-size="9.6" text-anchor="end" font-weight="bold" letter-spacing="0.9" stroke="#111" stroke-width="0.22">40</text>
<line x1="39.00" y1="430.62" x2="41.00" y2="430.62" stroke="#222" stroke-width="0.9"/>
<line x1="253.00" y1="430.62" x2="255.00" y2="430.62" stroke="#222" stroke-width="0.9"/>
<line x1="37.00" y1="418.75" x2="41.00" y2="418.75" stroke="#222" stroke-width="0.9"/>
<line x1="253.00" y1="418.75" x2="257.00" y2="418.75" stroke="#222" stroke-width="0.9"/>
<text x="32.40" y="423.55" font-size="9.6" text-anchor="end" font-weight="bold" letter-spacing="0.9" stroke="#111" stroke-width="0.22">50</text>
<line x1="39.00" y1="406.88" x2="41.00" y2="406.88" stroke="#222" stroke-width="0.9"/>
<line x1="253.00" y1="406.88" x2="255.00" y2="406.88" stroke="#222" stroke-width="0.9"/>
<line x1="37.00" y1="395.00" x2="41.00" y2="395.00" stroke="#222" stroke-width="0.9"/>
<line x1="253.00" y1="395.00" x2="257.00" y2="395.00" stroke="#222" stroke-width="0.9"/>
<text x="32.40" y="399.80" font-size="9.6" text-anchor="end" font-weight="bold" letter-spacing="0.9" stroke="#111" stroke-width="0.22">60</text>
<line x1="41.00" y1="391.00" x2="41.00" y2="395.00" stroke="#222" stroke-width="0.9"/>
<line x1="41.00" y1="537.50" x2="41.00" y2="541.50" stroke="#222" stroke-width="0.9"/>
<text x="41.25" y="555.80" font-size="9.6" text-anchor="middle" font-weight="bold" letter-spacing="0.5" stroke="#111" stroke-width="0.22">0</text>
<line x1="56.14" y1="393.00" x2="56.14" y2="395.00" stroke="#222" stroke-width="0.9"/>
<line x1="56.14" y1="537.50" x2="56.14" y2="539.50" stroke="#222" stroke-width="0.9"/>
<line x1="71.29" y1="391.00" x2="71.29" y2="395.00" stroke="#222" stroke-width="0.9"/>
<line x1="71.29" y1="537.50" x2="71.29" y2="541.50" stroke="#222" stroke-width="0.9"/>
<text x="71.54" y="555.80" font-size="9.6" text-anchor="middle" font-weight="bold" letter-spacing="0.5" stroke="#111" stroke-width="0.22">100</text>
<line x1="86.43" y1="393.00" x2="86.43" y2="395.00" stroke="#222" stroke-width="0.9"/>
<line x1="86.43" y1="537.50" x2="86.43" y2="539.50" stroke="#222" stroke-width="0.9"/>
<line x1="101.57" y1="391.00" x2="101.57" y2="395.00" stroke="#222" stroke-width="0.9"/>
<line x1="101.57" y1="537.50" x2="101.57" y2="541.50" stroke="#222" stroke-width="0.9"/>
<text x="101.82" y="555.80" font-size="9.6" text-anchor="middle" font-weight="bold" letter-spacing="0.5" stroke="#111" stroke-width="0.22">200</text>
<line x1="116.71" y1="393.00" x2="116.71" y2="395.00" stroke="#222" stroke-width="0.9"/>
<line x1="116.71" y1="537.50" x2="116.71" y2="539.50" stroke="#222" stroke-width="0.9"/>
<line x1="131.86" y1="391.00" x2="131.86" y2="395.00" stroke="#222" stroke-width="0.9"/>
<line x1="131.86" y1="537.50" x2="131.86" y2="541.50" stroke="#222" stroke-width="0.9"/>
<text x="132.11" y="555.80" font-size="9.6" text-anchor="middle" font-weight="bold" letter-spacing="0.5" stroke="#111" stroke-width="0.22">300</text>
<line x1="147.00" y1="393.00" x2="147.00" y2="395.00" stroke="#222" stroke-width="0.9"/>
<line x1="147.00" y1="537.50" x2="147.00" y2="539.50" stroke="#222" stroke-width="0.9"/>
<line x1="162.14" y1="391.00" x2="162.14" y2="395.00" stroke="#222" stroke-width="0.9"/>
<line x1="162.14" y1="537.50" x2="162.14" y2="541.50" stroke="#222" stroke-width="0.9"/>
<text x="162.39" y="555.80" font-size="9.6" text-anchor="middle" font-weight="bold" letter-spacing="0.5" stroke="#111" stroke-width="0.22">400</text>
<line x1="177.29" y1="393.00" x2="177.29" y2="395.00" stroke="#222" stroke-width="0.9"/>
<line x1="177.29" y1="537.50" x2="177.29" y2="539.50" stroke="#222" stroke-width="0.9"/>
<line x1="192.43" y1="391.00" x2="192.43" y2="395.00" stroke="#222" stroke-width="0.9"/>
<line x1="192.43" y1="537.50" x2="192.43" y2="541.50" stroke="#222" stroke-width="0.9"/>
<text x="192.68" y="555.80" font-size="9.6" text-anchor="middle" font-weight="bold" letter-spacing="0.5" stroke="#111" stroke-width="0.22">500</text>
<line x1="207.57" y1="393.00" x2="207.57" y2="395.00" stroke="#222" stroke-width="0.9"/>
<line x1="207.57" y1="537.50" x2="207.57" y2="539.50" stroke="#222" stroke-width="0.9"/>
<line x1="222.71" y1="391.00" x2="222.71" y2="395.00" stroke="#222" stroke-width="0.9"/>
<line x1="222.71" y1="537.50" x2="222.71" y2="541.50" stroke="#222" stroke-width="0.9"/>
<text x="222.96" y="555.80" font-size="9.6" text-anchor="middle" font-weight="bold" letter-spacing="0.5" stroke="#111" stroke-width="0.22">600</text>
<line x1="237.86" y1="393.00" x2="237.86" y2="395.00" stroke="#222" stroke-width="0.9"/>
<line x1="237.86" y1="537.50" x2="237.86" y2="539.50" stroke="#222" stroke-width="0.9"/>
<line x1="253.00" y1="391.00" x2="253.00" y2="395.00" stroke="#222" stroke-width="0.9"/>
<line x1="253.00" y1="537.50" x2="253.00" y2="541.50" stroke="#222" stroke-width="0.9"/>
<text x="253.25" y="555.80" font-size="9.6" text-anchor="middle" font-weight="bold" letter-spacing="0.5" stroke="#111" stroke-width="0.22">700</text>
<text transform="translate(44.80,422.90) scale(0.93,1)" font-size="29" text-anchor="start" font-weight="bold"  stroke="#111" stroke-width="0.5">C</text>
<text x="135.10" y="575.60" font-size="12.4" text-anchor="middle" font-weight="bold"  stroke="#111" stroke-width="0.3">Liver iron [µmol Fe/g]</text>
<circle cx="45.40" cy="517.40" r="3.05" fill="none" stroke="#222" stroke-width="1"/>
<circle cx="46.40" cy="524.00" r="3.05" fill="none" stroke="#222" stroke-width="1"/>
<circle cx="54.40" cy="511.00" r="3.05" fill="none" stroke="#222" stroke-width="1"/>
<circle cx="54.00" cy="524.00" r="3.05" fill="none" stroke="#222" stroke-width="1"/>
<circle cx="56.40" cy="524.60" r="3.05" fill="none" stroke="#222" stroke-width="1"/>
<circle cx="57.40" cy="520.00" r="3.05" fill="none" stroke="#222" stroke-width="1"/>
<circle cx="65.40" cy="521.00" r="3.05" fill="none" stroke="#222" stroke-width="1"/>
<circle cx="67.40" cy="526.00" r="3.05" fill="none" stroke="#222" stroke-width="1"/>
<circle cx="69.00" cy="533.00" r="3.05" fill="none" stroke="#222" stroke-width="1"/>
<circle cx="90.60" cy="513.00" r="3.05" fill="none" stroke="#222" stroke-width="1"/>
<circle cx="99.40" cy="509.00" r="3.05" fill="none" stroke="#222" stroke-width="1"/>
<circle cx="109.40" cy="497.40" r="3.05" fill="none" stroke="#222" stroke-width="1"/>
<circle cx="124.00" cy="497.40" r="3.05" fill="none" stroke="#222" stroke-width="1"/>
<circle cx="117.40" cy="507.40" r="3.05" fill="none" stroke="#222" stroke-width="1"/>
<circle cx="113.00" cy="517.40" r="3.05" fill="none" stroke="#222" stroke-width="1"/>
<circle cx="109.40" cy="525.60" r="3.05" fill="none" stroke="#222" stroke-width="1"/>
<circle cx="106.60" cy="528.00" r="3.05" fill="none" stroke="#222" stroke-width="1"/>
<circle cx="136.00" cy="502.40" r="3.05" fill="none" stroke="#222" stroke-width="1"/>
<circle cx="134.00" cy="510.40" r="3.05" fill="none" stroke="#222" stroke-width="1"/>
<circle cx="145.50" cy="513.10" r="3.05" fill="none" stroke="#222" stroke-width="1"/>
<circle cx="151.50" cy="521.80" r="3.05" fill="none" stroke="#222" stroke-width="1"/>
<circle cx="154.60" cy="500.30" r="3.05" fill="none" stroke="#222" stroke-width="1"/>
<circle cx="159.30" cy="496.20" r="3.05" fill="none" stroke="#222" stroke-width="1"/>
<circle cx="156.20" cy="513.10" r="3.05" fill="none" stroke="#222" stroke-width="1"/>
<circle cx="159.90" cy="510.10" r="3.05" fill="none" stroke="#222" stroke-width="1"/>
<circle cx="163.20" cy="509.30" r="3.05" fill="none" stroke="#222" stroke-width="1"/>
<circle cx="163.20" cy="517.80" r="3.05" fill="none" stroke="#222" stroke-width="1"/>
<circle cx="169.30" cy="510.10" r="3.05" fill="none" stroke="#222" stroke-width="1"/>
<circle cx="161.40" cy="481.70" r="3.05" fill="none" stroke="#222" stroke-width="1"/>
<circle cx="166.10" cy="489.50" r="3.05" fill="none" stroke="#222" stroke-width="1"/>
<circle cx="171.00" cy="484.80" r="3.05" fill="none" stroke="#222" stroke-width="1"/>
<circle cx="174.10" cy="479.70" r="3.05" fill="none" stroke="#222" stroke-width="1"/>
<circle cx="180.90" cy="479.70" r="3.05" fill="none" stroke="#222" stroke-width="1"/>
<circle cx="174.40" cy="490.50" r="3.05" fill="none" stroke="#222" stroke-width="1"/>
<circle cx="177.80" cy="491.30" r="3.05" fill="none" stroke="#222" stroke-width="1"/>
<circle cx="172.10" cy="502.30" r="3.05" fill="none" stroke="#222" stroke-width="1"/>
<circle cx="175.10" cy="516.20" r="3.05" fill="none" stroke="#222" stroke-width="1"/>
<circle cx="175.10" cy="523.20" r="3.05" fill="none" stroke="#222" stroke-width="1"/>
<circle cx="182.80" cy="513.30" r="3.05" fill="none" stroke="#222" stroke-width="1"/>
<circle cx="185.60" cy="510.40" r="3.05" fill="none" stroke="#222" stroke-width="1"/>
<circle cx="186.50" cy="508.80" r="3.05" fill="none" stroke="#222" stroke-width="1"/>
<circle cx="187.60" cy="500.30" r="3.05" fill="none" stroke="#222" stroke-width="1"/>
<circle cx="194.30" cy="510.10" r="3.05" fill="none" stroke="#222" stroke-width="1"/>
<circle cx="194.30" cy="490.50" r="3.05" fill="none" stroke="#222" stroke-width="1"/>
<circle cx="198.60" cy="488.20" r="3.05" fill="none" stroke="#222" stroke-width="1"/>
<circle cx="198.60" cy="494.90" r="3.05" fill="none" stroke="#222" stroke-width="1"/>
<circle cx="198.90" cy="497.60" r="3.05" fill="none" stroke="#222" stroke-width="1"/>
<circle cx="187.60" cy="473.00" r="3.05" fill="none" stroke="#222" stroke-width="1"/>
<circle cx="195.50" cy="470.50" r="3.05" fill="none" stroke="#222" stroke-width="1"/>
<circle cx="204.10" cy="476.70" r="3.05" fill="none" stroke="#222" stroke-width="1"/>
<circle cx="202.40" cy="481.00" r="3.05" fill="none" stroke="#222" stroke-width="1"/>
<circle cx="210.20" cy="480.80" r="3.05" fill="none" stroke="#222" stroke-width="1"/>
<circle cx="204.10" cy="487.50" r="3.05" fill="none" stroke="#222" stroke-width="1"/>
<circle cx="203.50" cy="490.90" r="3.05" fill="none" stroke="#222" stroke-width="1"/>
<circle cx="212.20" cy="486.80" r="3.05" fill="none" stroke="#222" stroke-width="1"/>
<circle cx="210.20" cy="491.30" r="3.05" fill="none" stroke="#222" stroke-width="1"/>
<circle cx="214.50" cy="491.50" r="3.05" fill="none" stroke="#222" stroke-width="1"/>
<circle cx="204.40" cy="495.30" r="3.05" fill="none" stroke="#222" stroke-width="1"/>
<circle cx="211.10" cy="494.60" r="3.05" fill="none" stroke="#222" stroke-width="1"/>
<circle cx="207.20" cy="400.80" r="3.05" fill="none" stroke="#222" stroke-width="1"/>
<circle cx="193.40" cy="410.70" r="3.05" fill="none" stroke="#222" stroke-width="1"/>
<circle cx="225.80" cy="416.80" r="3.05" fill="none" stroke="#222" stroke-width="1"/>
<circle cx="214.20" cy="433.50" r="3.05" fill="none" stroke="#222" stroke-width="1"/>
<circle cx="229.70" cy="435.50" r="3.05" fill="none" stroke="#222" stroke-width="1"/>
<circle cx="209.20" cy="445.30" r="3.05" fill="none" stroke="#222" stroke-width="1"/>
<circle cx="198.50" cy="450.40" r="3.05" fill="none" stroke="#222" stroke-width="1"/>
<circle cx="190.50" cy="454.80" r="3.05" fill="none" stroke="#222" stroke-width="1"/>
<circle cx="218.80" cy="452.30" r="3.05" fill="none" stroke="#222" stroke-width="1"/>
<circle cx="219.60" cy="453.10" r="3.05" fill="none" stroke="#222" stroke-width="1"/>
<circle cx="228.00" cy="451.40" r="3.05" fill="none" stroke="#222" stroke-width="1"/>
<circle cx="207.40" cy="456.80" r="3.05" fill="none" stroke="#222" stroke-width="1"/>
<circle cx="223.40" cy="455.60" r="3.05" fill="none" stroke="#222" stroke-width="1"/>
<circle cx="218.20" cy="460.10" r="3.05" fill="none" stroke="#222" stroke-width="1"/>
<circle cx="205.40" cy="462.20" r="3.05" fill="none" stroke="#222" stroke-width="1"/>
<circle cx="194.60" cy="461.90" r="3.05" fill="none" stroke="#222" stroke-width="1"/>
<circle cx="180.00" cy="463.20" r="3.05" fill="none" stroke="#222" stroke-width="1"/>
<path d="M46.30,523.80 C49.42,523.17 57.72,521.50 65.00,520.00 C72.28,518.50 81.67,516.43 90.00,514.80 C98.33,513.17 106.67,511.70 115.00,510.20 C123.33,508.70 133.33,507.07 140.00,505.80 C146.67,504.53 150.67,503.70 155.00,502.60 C159.33,501.50 162.33,500.67 166.00,499.20 C169.67,497.73 173.83,495.47 177.00,493.80 C180.17,492.13 181.75,491.22 185.00,489.20 C188.25,487.18 193.62,483.97 196.50,481.70 C199.38,479.43 200.37,477.72 202.30,475.60 C204.23,473.48 206.18,471.15 208.10,469.00 C210.02,466.85 211.88,464.82 213.80,462.70 C215.72,460.58 217.67,458.42 219.60,456.30 C221.53,454.18 223.77,451.72 225.40,450.00 C227.03,448.28 228.73,446.67 229.40,446.00" fill="none" stroke="#222" stroke-width="1"/>
<rect x="290.5" y="5.0" width="211.0" height="142.3" fill="none" stroke="#222" stroke-width="1"/>
<line x1="286.50" y1="147.30" x2="290.50" y2="147.30" stroke="#222" stroke-width="0.9"/>
<line x1="501.50" y1="147.30" x2="505.50" y2="147.30" stroke="#222" stroke-width="0.9"/>
<text x="282.40" y="152.40" font-size="9.6" text-anchor="end" font-weight="bold" letter-spacing="0.9" stroke="#111" stroke-width="0.22">0</text>
<line x1="288.50" y1="137.14" x2="290.50" y2="137.14" stroke="#222" stroke-width="0.9"/>
<line x1="501.50" y1="137.14" x2="503.50" y2="137.14" stroke="#222" stroke-width="0.9"/>
<line x1="286.50" y1="126.97" x2="290.50" y2="126.97" stroke="#222" stroke-width="0.9"/>
<line x1="501.50" y1="126.97" x2="505.50" y2="126.97" stroke="#222" stroke-width="0.9"/>
<text x="282.40" y="132.07" font-size="9.6" text-anchor="end" font-weight="bold" letter-spacing="0.9" stroke="#111" stroke-width="0.22">5</text>
<line x1="288.50" y1="116.81" x2="290.50" y2="116.81" stroke="#222" stroke-width="0.9"/>
<line x1="501.50" y1="116.81" x2="503.50" y2="116.81" stroke="#222" stroke-width="0.9"/>
<line x1="286.50" y1="106.64" x2="290.50" y2="106.64" stroke="#222" stroke-width="0.9"/>
<line x1="501.50" y1="106.64" x2="505.50" y2="106.64" stroke="#222" stroke-width="0.9"/>
<text x="282.40" y="111.74" font-size="9.6" text-anchor="end" font-weight="bold" letter-spacing="0.9" stroke="#111" stroke-width="0.22">10</text>
<line x1="288.50" y1="96.48" x2="290.50" y2="96.48" stroke="#222" stroke-width="0.9"/>
<line x1="501.50" y1="96.48" x2="503.50" y2="96.48" stroke="#222" stroke-width="0.9"/>
<line x1="286.50" y1="86.31" x2="290.50" y2="86.31" stroke="#222" stroke-width="0.9"/>
<line x1="501.50" y1="86.31" x2="505.50" y2="86.31" stroke="#222" stroke-width="0.9"/>
<text x="282.40" y="91.41" font-size="9.6" text-anchor="end" font-weight="bold" letter-spacing="0.9" stroke="#111" stroke-width="0.22">15</text>
<line x1="288.50" y1="76.15" x2="290.50" y2="76.15" stroke="#222" stroke-width="0.9"/>
<line x1="501.50" y1="76.15" x2="503.50" y2="76.15" stroke="#222" stroke-width="0.9"/>
<line x1="286.50" y1="65.99" x2="290.50" y2="65.99" stroke="#222" stroke-width="0.9"/>
<line x1="501.50" y1="65.99" x2="505.50" y2="65.99" stroke="#222" stroke-width="0.9"/>
<text x="282.40" y="71.09" font-size="9.6" text-anchor="end" font-weight="bold" letter-spacing="0.9" stroke="#111" stroke-width="0.22">20</text>
<line x1="288.50" y1="55.82" x2="290.50" y2="55.82" stroke="#222" stroke-width="0.9"/>
<line x1="501.50" y1="55.82" x2="503.50" y2="55.82" stroke="#222" stroke-width="0.9"/>
<line x1="286.50" y1="45.66" x2="290.50" y2="45.66" stroke="#222" stroke-width="0.9"/>
<line x1="501.50" y1="45.66" x2="505.50" y2="45.66" stroke="#222" stroke-width="0.9"/>
<text x="282.40" y="50.76" font-size="9.6" text-anchor="end" font-weight="bold" letter-spacing="0.9" stroke="#111" stroke-width="0.22">25</text>
<line x1="288.50" y1="35.49" x2="290.50" y2="35.49" stroke="#222" stroke-width="0.9"/>
<line x1="501.50" y1="35.49" x2="503.50" y2="35.49" stroke="#222" stroke-width="0.9"/>
<line x1="286.50" y1="25.33" x2="290.50" y2="25.33" stroke="#222" stroke-width="0.9"/>
<line x1="501.50" y1="25.33" x2="505.50" y2="25.33" stroke="#222" stroke-width="0.9"/>
<text x="282.40" y="30.43" font-size="9.6" text-anchor="end" font-weight="bold" letter-spacing="0.9" stroke="#111" stroke-width="0.22">30</text>
<line x1="288.50" y1="15.16" x2="290.50" y2="15.16" stroke="#222" stroke-width="0.9"/>
<line x1="501.50" y1="15.16" x2="503.50" y2="15.16" stroke="#222" stroke-width="0.9"/>
<line x1="286.50" y1="5.00" x2="290.50" y2="5.00" stroke="#222" stroke-width="0.9"/>
<line x1="501.50" y1="5.00" x2="505.50" y2="5.00" stroke="#222" stroke-width="0.9"/>
<text x="282.40" y="10.10" font-size="9.6" text-anchor="end" font-weight="bold" letter-spacing="0.9" stroke="#111" stroke-width="0.22">35</text>
<line x1="290.50" y1="1.00" x2="290.50" y2="5.00" stroke="#222" stroke-width="0.9"/>
<line x1="290.50" y1="147.30" x2="290.50" y2="151.30" stroke="#222" stroke-width="0.9"/>
<text x="290.75" y="166.20" font-size="9.6" text-anchor="middle" font-weight="bold" letter-spacing="0.5" stroke="#111" stroke-width="0.22">1</text>
<line x1="322.26" y1="3.00" x2="322.26" y2="5.00" stroke="#222" stroke-width="0.9"/>
<line x1="322.26" y1="147.30" x2="322.26" y2="149.30" stroke="#222" stroke-width="0.9"/>
<line x1="340.84" y1="3.00" x2="340.84" y2="5.00" stroke="#222" stroke-width="0.9"/>
<line x1="340.84" y1="147.30" x2="340.84" y2="149.30" stroke="#222" stroke-width="0.9"/>
<line x1="354.02" y1="3.00" x2="354.02" y2="5.00" stroke="#222" stroke-width="0.9"/>
<line x1="354.02" y1="147.30" x2="354.02" y2="149.30" stroke="#222" stroke-width="0.9"/>
<line x1="364.24" y1="3.00" x2="364.24" y2="5.00" stroke="#222" stroke-width="0.9"/>
<line x1="364.24" y1="147.30" x2="364.24" y2="149.30" stroke="#222" stroke-width="0.9"/>
<line x1="372.59" y1="3.00" x2="372.59" y2="5.00" stroke="#222" stroke-width="0.9"/>
<line x1="372.59" y1="147.30" x2="372.59" y2="149.30" stroke="#222" stroke-width="0.9"/>
<line x1="379.66" y1="3.00" x2="379.66" y2="5.00" stroke="#222" stroke-width="0.9"/>
<line x1="379.66" y1="147.30" x2="379.66" y2="149.30" stroke="#222" stroke-width="0.9"/>
<line x1="385.78" y1="3.00" x2="385.78" y2="5.00" stroke="#222" stroke-width="0.9"/>
<line x1="385.78" y1="147.30" x2="385.78" y2="149.30" stroke="#222" stroke-width="0.9"/>
<line x1="391.17" y1="3.00" x2="391.17" y2="5.00" stroke="#222" stroke-width="0.9"/>
<line x1="391.17" y1="147.30" x2="391.17" y2="149.30" stroke="#222" stroke-width="0.9"/>
<line x1="396.00" y1="1.00" x2="396.00" y2="5.00" stroke="#222" stroke-width="0.9"/>
<line x1="396.00" y1="147.30" x2="396.00" y2="151.30" stroke="#222" stroke-width="0.9"/>
<text x="396.25" y="166.20" font-size="9.6" text-anchor="middle" font-weight="bold" letter-spacing="0.5" stroke="#111" stroke-width="0.22">10</text>
<line x1="427.76" y1="3.00" x2="427.76" y2="5.00" stroke="#222" stroke-width="0.9"/>
<line x1="427.76" y1="147.30" x2="427.76" y2="149.30" stroke="#222" stroke-width="0.9"/>
<line x1="446.34" y1="3.00" x2="446.34" y2="5.00" stroke="#222" stroke-width="0.9"/>
<line x1="446.34" y1="147.30" x2="446.34" y2="149.30" stroke="#222" stroke-width="0.9"/>
<line x1="459.52" y1="3.00" x2="459.52" y2="5.00" stroke="#222" stroke-width="0.9"/>
<line x1="459.52" y1="147.30" x2="459.52" y2="149.30" stroke="#222" stroke-width="0.9"/>
<line x1="469.74" y1="3.00" x2="469.74" y2="5.00" stroke="#222" stroke-width="0.9"/>
<line x1="469.74" y1="147.30" x2="469.74" y2="149.30" stroke="#222" stroke-width="0.9"/>
<line x1="478.09" y1="3.00" x2="478.09" y2="5.00" stroke="#222" stroke-width="0.9"/>
<line x1="478.09" y1="147.30" x2="478.09" y2="149.30" stroke="#222" stroke-width="0.9"/>
<line x1="485.16" y1="3.00" x2="485.16" y2="5.00" stroke="#222" stroke-width="0.9"/>
<line x1="485.16" y1="147.30" x2="485.16" y2="149.30" stroke="#222" stroke-width="0.9"/>
<line x1="491.28" y1="3.00" x2="491.28" y2="5.00" stroke="#222" stroke-width="0.9"/>
<line x1="491.28" y1="147.30" x2="491.28" y2="149.30" stroke="#222" stroke-width="0.9"/>
<line x1="496.67" y1="3.00" x2="496.67" y2="5.00" stroke="#222" stroke-width="0.9"/>
<line x1="496.67" y1="147.30" x2="496.67" y2="149.30" stroke="#222" stroke-width="0.9"/>
<line x1="501.50" y1="1.00" x2="501.50" y2="5.00" stroke="#222" stroke-width="0.9"/>
<line x1="501.50" y1="147.30" x2="501.50" y2="151.30" stroke="#222" stroke-width="0.9"/>
<text x="501.75" y="166.20" font-size="9.6" text-anchor="middle" font-weight="bold" letter-spacing="0.5" stroke="#111" stroke-width="0.22">100</text>
<text transform="translate(296.40,32.30) scale(0.93,1)" font-size="29" text-anchor="start" font-weight="bold"  stroke="#111" stroke-width="0.5">D</text>
<text x="388.50" y="188.70" font-size="12.4" text-anchor="middle" font-weight="bold"  stroke="#111" stroke-width="0.3">Urinary Iron [mg/24 h]</text>
<circle cx="320.00" cy="141.60" r="3.05" fill="none" stroke="#222" stroke-width="1"/>
<circle cx="355.40" cy="139.00" r="3.05" fill="none" stroke="#222" stroke-width="1"/>
<circle cx="363.00" cy="137.00" r="3.05" fill="none" stroke="#222" stroke-width="1"/>
<circle cx="368.00" cy="137.40" r="3.05" fill="none" stroke="#222" stroke-width="1"/>
<circle cx="376.60" cy="140.40" r="3.05" fill="none" stroke="#222" stroke-width="1"/>
<circle cx="386.40" cy="137.40" r="3.05" fill="none" stroke="#222" stroke-width="1"/>
<circle cx="363.00" cy="126.00" r="3.05" fill="none" stroke="#222" stroke-width="1"/>
<circle cx="370.60" cy="124.00" r="3.05" fill="none" stroke="#222" stroke-width="1"/>
<circle cx="372.60" cy="119.00" r="3.05" fill="none" stroke="#222" stroke-width="1"/>
<circle cx="373.00" cy="128.60" r="3.05" fill="none" stroke="#222" stroke-width="1"/>
<circle cx="380.60" cy="115.00" r="3.05" fill="none" stroke="#222" stroke-width="1"/>
<circle cx="384.40" cy="122.00" r="3.05" fill="none" stroke="#222" stroke-width="1"/>
<circle cx="397.40" cy="114.80" r="3.05" fill="none" stroke="#222" stroke-width="1"/>
<circle cx="403.20" cy="115.50" r="3.05" fill="none" stroke="#222" stroke-width="1"/>
<circle cx="398.10" cy="120.90" r="3.05" fill="none" stroke="#222" stroke-width="1"/>
<circle cx="406.10" cy="121.60" r="3.05" fill="none" stroke="#222" stroke-width="1"/>
<circle cx="389.70" cy="124.90" r="3.05" fill="none" stroke="#222" stroke-width="1"/>
<circle cx="391.10" cy="127.20" r="3.05" fill="none" stroke="#222" stroke-width="1"/>
<circle cx="397.80" cy="126.70" r="3.05" fill="none" stroke="#222" stroke-width="1"/>
<circle cx="401.80" cy="127.00" r="3.05" fill="none" stroke="#222" stroke-width="1"/>
<circle cx="403.80" cy="125.90" r="3.05" fill="none" stroke="#222" stroke-width="1"/>
<circle cx="402.50" cy="129.00" r="3.05" fill="none" stroke="#222" stroke-width="1"/>
<circle cx="397.10" cy="132.30" r="3.05" fill="none" stroke="#222" stroke-width="1"/>
<circle cx="403.20" cy="133.00" r="3.05" fill="none" stroke="#222" stroke-width="1"/>
<circle cx="409.20" cy="132.30" r="3.05" fill="none" stroke="#222" stroke-width="1"/>
<circle cx="403.20" cy="138.80" r="3.05" fill="none" stroke="#222" stroke-width="1"/>
<circle cx="403.80" cy="141.80" r="3.05" fill="none" stroke="#222" stroke-width="1"/>
<circle cx="403.80" cy="140.10" r="3.05" fill="none" stroke="#222" stroke-width="1"/>
<circle cx="414.90" cy="123.60" r="3.05" fill="none" stroke="#222" stroke-width="1"/>
<circle cx="417.30" cy="124.30" r="3.05" fill="none" stroke="#222" stroke-width="1"/>
<circle cx="414.30" cy="136.40" r="3.05" fill="none" stroke="#222" stroke-width="1"/>
<circle cx="416.60" cy="138.40" r="3.05" fill="none" stroke="#222" stroke-width="1"/>
<circle cx="420.70" cy="136.40" r="3.05" fill="none" stroke="#222" stroke-width="1"/>
<circle cx="424.00" cy="139.10" r="3.05" fill="none" stroke="#222" stroke-width="1"/>
<circle cx="428.10" cy="139.70" r="3.05" fill="none" stroke="#222" stroke-width="1"/>
<circle cx="421.30" cy="106.80" r="3.05" fill="none" stroke="#222" stroke-width="1"/>
<circle cx="426.70" cy="110.10" r="3.05" fill="none" stroke="#222" stroke-width="1"/>
<circle cx="424.70" cy="115.50" r="3.05" fill="none" stroke="#222" stroke-width="1"/>
<circle cx="430.10" cy="112.80" r="3.05" fill="none" stroke="#222" stroke-width="1"/>
<circle cx="436.10" cy="114.80" r="3.05" fill="none" stroke="#222" stroke-width="1"/>
<circle cx="435.50" cy="118.20" r="3.05" fill="none" stroke="#222" stroke-width="1"/>
<circle cx="430.10" cy="117.50" r="3.05" fill="none" stroke="#222" stroke-width="1"/>
<circle cx="426.70" cy="120.90" r="3.05" fill="none" stroke="#222" stroke-width="1"/>
<circle cx="427.40" cy="122.90" r="3.05" fill="none" stroke="#222" stroke-width="1"/>
<circle cx="437.50" cy="122.20" r="3.05" fill="none" stroke="#222" stroke-width="1"/>
<circle cx="436.80" cy="120.20" r="3.05" fill="none" stroke="#222" stroke-width="1"/>
<circle cx="433.50" cy="126.30" r="3.05" fill="none" stroke="#222" stroke-width="1"/>
<circle cx="422.00" cy="125.60" r="3.05" fill="none" stroke="#222" stroke-width="1"/>
<circle cx="420.70" cy="128.30" r="3.05" fill="none" stroke="#222" stroke-width="1"/>
<circle cx="428.10" cy="129.00" r="3.05" fill="none" stroke="#222" stroke-width="1"/>
<circle cx="423.40" cy="131.70" r="3.05" fill="none" stroke="#222" stroke-width="1"/>
<circle cx="450.80" cy="56.60" r="3.05" fill="none" stroke="#222" stroke-width="1"/>
<circle cx="471.50" cy="56.60" r="3.05" fill="none" stroke="#222" stroke-width="1"/>
<circle cx="439.20" cy="69.50" r="3.05" fill="none" stroke="#222" stroke-width="1"/>
<circle cx="453.10" cy="63.50" r="3.05" fill="none" stroke="#222" stroke-width="1"/>
<circle cx="455.80" cy="68.50" r="3.05" fill="none" stroke="#222" stroke-width="1"/>
<circle cx="456.90" cy="72.30" r="3.05" fill="none" stroke="#222" stroke-width="1"/>
<circle cx="459.20" cy="74.30" r="3.05" fill="none" stroke="#222" stroke-width="1"/>
<circle cx="450.00" cy="80.30" r="3.05" fill="none" stroke="#222" stroke-width="1"/>
<circle cx="442.00" cy="87.40" r="3.05" fill="none" stroke="#222" stroke-width="1"/>
<circle cx="454.20" cy="86.90" r="3.05" fill="none" stroke="#222" stroke-width="1"/>
<circle cx="455.80" cy="91.50" r="3.05" fill="none" stroke="#222" stroke-width="1"/>
<circle cx="453.80" cy="95.10" r="3.05" fill="none" stroke="#222" stroke-width="1"/>
<circle cx="430.50" cy="89.20" r="3.05" fill="none" stroke="#222" stroke-width="1"/>
<circle cx="428.50" cy="93.10" r="3.05" fill="none" stroke="#222" stroke-width="1"/>
<circle cx="431.20" cy="96.20" r="3.05" fill="none" stroke="#222" stroke-width="1"/>
<circle cx="445.70" cy="97.40" r="3.05" fill="none" stroke="#222" stroke-width="1"/>
<circle cx="438.20" cy="100.00" r="3.05" fill="none" stroke="#222" stroke-width="1"/>
<circle cx="455.10" cy="103.40" r="3.05" fill="none" stroke="#222" stroke-width="1"/>
<circle cx="450.00" cy="108.20" r="3.05" fill="none" stroke="#222" stroke-width="1"/>
<circle cx="473.50" cy="95.40" r="3.05" fill="none" stroke="#222" stroke-width="1"/>
<circle cx="448.80" cy="25.00" r="3.05" fill="none" stroke="#222" stroke-width="1"/>
<circle cx="464.60" cy="20.40" r="3.05" fill="none" stroke="#222" stroke-width="1"/>
<circle cx="476.50" cy="20.40" r="3.05" fill="none" stroke="#222" stroke-width="1"/>
<path d="M344.40,131.00 C348.67,130.83 362.73,130.33 370.00,130.00 C377.27,129.67 382.17,129.43 388.00,129.00 C393.83,128.57 401.00,127.82 405.00,127.40 C409.00,126.98 409.67,127.15 412.00,126.50 C414.33,125.85 416.77,124.77 419.00,123.50 C421.23,122.23 423.05,120.98 425.40,118.90 C427.75,116.82 431.00,113.48 433.10,111.00 C435.20,108.52 436.22,106.47 438.00,104.00 C439.78,101.53 441.80,99.28 443.80,96.20 C445.80,93.12 447.93,89.10 450.00,85.50 C452.07,81.90 453.90,78.72 456.20,74.60 C458.50,70.48 461.75,64.90 463.80,60.80 C465.85,56.70 466.57,54.93 468.50,50.00 C470.43,45.07 474.25,34.33 475.40,31.20" fill="none" stroke="#222" stroke-width="1"/>
<rect x="292.5" y="207.0" width="211.8" height="141.5" fill="none" stroke="#222" stroke-width="1"/>
<line x1="288.50" y1="348.50" x2="292.50" y2="348.50" stroke="#222" stroke-width="0.9"/>
<line x1="504.30" y1="348.50" x2="508.30" y2="348.50" stroke="#222" stroke-width="0.9"/>
<text x="284.50" y="353.60" font-size="9.6" text-anchor="end" font-weight="bold" letter-spacing="0.9" stroke="#111" stroke-width="0.22">0</text>
<line x1="290.50" y1="339.66" x2="292.50" y2="339.66" stroke="#222" stroke-width="0.9"/>
<line x1="504.30" y1="339.66" x2="506.30" y2="339.66" stroke="#222" stroke-width="0.9"/>
<line x1="288.50" y1="330.81" x2="292.50" y2="330.81" stroke="#222" stroke-width="0.9"/>
<line x1="504.30" y1="330.81" x2="508.30" y2="330.81" stroke="#222" stroke-width="0.9"/>
<text x="284.50" y="335.91" font-size="9.6" text-anchor="end" font-weight="bold" letter-spacing="0.9" stroke="#111" stroke-width="0.22">5</text>
<line x1="290.50" y1="321.97" x2="292.50" y2="321.97" stroke="#222" stroke-width="0.9"/>
<line x1="504.30" y1="321.97" x2="506.30" y2="321.97" stroke="#222" stroke-width="0.9"/>
<line x1="288.50" y1="313.12" x2="292.50" y2="313.12" stroke="#222" stroke-width="0.9"/>
<line x1="504.30" y1="313.12" x2="508.30" y2="313.12" stroke="#222" stroke-width="0.9"/>
<text x="284.50" y="318.23" font-size="9.6" text-anchor="end" font-weight="bold" letter-spacing="0.9" stroke="#111" stroke-width="0.22">10</text>
<line x1="290.50" y1="304.28" x2="292.50" y2="304.28" stroke="#222" stroke-width="0.9"/>
<line x1="504.30" y1="304.28" x2="506.30" y2="304.28" stroke="#222" stroke-width="0.9"/>
<line x1="288.50" y1="295.44" x2="292.50" y2="295.44" stroke="#222" stroke-width="0.9"/>
<line x1="504.30" y1="295.44" x2="508.30" y2="295.44" stroke="#222" stroke-width="0.9"/>
<text x="284.50" y="300.54" font-size="9.6" text-anchor="end" font-weight="bold" letter-spacing="0.9" stroke="#111" stroke-width="0.22">15</text>
<line x1="290.50" y1="286.59" x2="292.50" y2="286.59" stroke="#222" stroke-width="0.9"/>
<line x1="504.30" y1="286.59" x2="506.30" y2="286.59" stroke="#222" stroke-width="0.9"/>
<line x1="288.50" y1="277.75" x2="292.50" y2="277.75" stroke="#222" stroke-width="0.9"/>
<line x1="504.30" y1="277.75" x2="508.30" y2="277.75" stroke="#222" stroke-width="0.9"/>
<text x="284.50" y="282.85" font-size="9.6" text-anchor="end" font-weight="bold" letter-spacing="0.9" stroke="#111" stroke-width="0.22">20</text>
<line x1="290.50" y1="268.91" x2="292.50" y2="268.91" stroke="#222" stroke-width="0.9"/>
<line x1="504.30" y1="268.91" x2="506.30" y2="268.91" stroke="#222" stroke-width="0.9"/>
<line x1="288.50" y1="260.06" x2="292.50" y2="260.06" stroke="#222" stroke-width="0.9"/>
<line x1="504.30" y1="260.06" x2="508.30" y2="260.06" stroke="#222" stroke-width="0.9"/>
<text x="284.50" y="265.16" font-size="9.6" text-anchor="end" font-weight="bold" letter-spacing="0.9" stroke="#111" stroke-width="0.22">25</text>
<line x1="290.50" y1="251.22" x2="292.50" y2="251.22" stroke="#222" stroke-width="0.9"/>
<line x1="504.30" y1="251.22" x2="506.30" y2="251.22" stroke="#222" stroke-width="0.9"/>
<line x1="288.50" y1="242.38" x2="292.50" y2="242.38" stroke="#222" stroke-width="0.9"/>
<line x1="504.30" y1="242.38" x2="508.30" y2="242.38" stroke="#222" stroke-width="0.9"/>
<text x="284.50" y="247.48" font-size="9.6" text-anchor="end" font-weight="bold" letter-spacing="0.9" stroke="#111" stroke-width="0.22">30</text>
<line x1="290.50" y1="233.53" x2="292.50" y2="233.53" stroke="#222" stroke-width="0.9"/>
<line x1="504.30" y1="233.53" x2="506.30" y2="233.53" stroke="#222" stroke-width="0.9"/>
<line x1="288.50" y1="224.69" x2="292.50" y2="224.69" stroke="#222" stroke-width="0.9"/>
<line x1="504.30" y1="224.69" x2="508.30" y2="224.69" stroke="#222" stroke-width="0.9"/>
<text x="284.50" y="229.79" font-size="9.6" text-anchor="end" font-weight="bold" letter-spacing="0.9" stroke="#111" stroke-width="0.22">35</text>
<line x1="290.50" y1="215.84" x2="292.50" y2="215.84" stroke="#222" stroke-width="0.9"/>
<line x1="504.30" y1="215.84" x2="506.30" y2="215.84" stroke="#222" stroke-width="0.9"/>
<line x1="288.50" y1="207.00" x2="292.50" y2="207.00" stroke="#222" stroke-width="0.9"/>
<line x1="504.30" y1="207.00" x2="508.30" y2="207.00" stroke="#222" stroke-width="0.9"/>
<text x="284.50" y="212.10" font-size="9.6" text-anchor="end" font-weight="bold" letter-spacing="0.9" stroke="#111" stroke-width="0.22">40</text>
<line x1="292.50" y1="203.00" x2="292.50" y2="207.00" stroke="#222" stroke-width="0.9"/>
<line x1="292.50" y1="348.50" x2="292.50" y2="352.50" stroke="#222" stroke-width="0.9"/>
<text x="292.75" y="367.40" font-size="9.6" text-anchor="middle" font-weight="bold" letter-spacing="0.5" stroke="#111" stroke-width="0.22">100</text>
<line x1="324.38" y1="205.00" x2="324.38" y2="207.00" stroke="#222" stroke-width="0.9"/>
<line x1="324.38" y1="348.50" x2="324.38" y2="350.50" stroke="#222" stroke-width="0.9"/>
<line x1="343.03" y1="205.00" x2="343.03" y2="207.00" stroke="#222" stroke-width="0.9"/>
<line x1="343.03" y1="348.50" x2="343.03" y2="350.50" stroke="#222" stroke-width="0.9"/>
<line x1="356.26" y1="205.00" x2="356.26" y2="207.00" stroke="#222" stroke-width="0.9"/>
<line x1="356.26" y1="348.50" x2="356.26" y2="350.50" stroke="#222" stroke-width="0.9"/>
<line x1="366.52" y1="205.00" x2="366.52" y2="207.00" stroke="#222" stroke-width="0.9"/>
<line x1="366.52" y1="348.50" x2="366.52" y2="350.50" stroke="#222" stroke-width="0.9"/>
<line x1="374.91" y1="205.00" x2="374.91" y2="207.00" stroke="#222" stroke-width="0.9"/>
<line x1="374.91" y1="348.50" x2="374.91" y2="350.50" stroke="#222" stroke-width="0.9"/>
<line x1="382.00" y1="205.00" x2="382.00" y2="207.00" stroke="#222" stroke-width="0.9"/>
<line x1="382.00" y1="348.50" x2="382.00" y2="350.50" stroke="#222" stroke-width="0.9"/>
<line x1="388.14" y1="205.00" x2="388.14" y2="207.00" stroke="#222" stroke-width="0.9"/>
<line x1="388.14" y1="348.50" x2="388.14" y2="350.50" stroke="#222" stroke-width="0.9"/>
<line x1="393.55" y1="205.00" x2="393.55" y2="207.00" stroke="#222" stroke-width="0.9"/>
<line x1="393.55" y1="348.50" x2="393.55" y2="350.50" stroke="#222" stroke-width="0.9"/>
<line x1="398.40" y1="203.00" x2="398.40" y2="207.00" stroke="#222" stroke-width="0.9"/>
<line x1="398.40" y1="348.50" x2="398.40" y2="352.50" stroke="#222" stroke-width="0.9"/>
<text x="398.65" y="367.40" font-size="9.6" text-anchor="middle" font-weight="bold" letter-spacing="0.5" stroke="#111" stroke-width="0.22">1000</text>
<line x1="430.28" y1="205.00" x2="430.28" y2="207.00" stroke="#222" stroke-width="0.9"/>
<line x1="430.28" y1="348.50" x2="430.28" y2="350.50" stroke="#222" stroke-width="0.9"/>
<line x1="448.93" y1="205.00" x2="448.93" y2="207.00" stroke="#222" stroke-width="0.9"/>
<line x1="448.93" y1="348.50" x2="448.93" y2="350.50" stroke="#222" stroke-width="0.9"/>
<line x1="462.16" y1="205.00" x2="462.16" y2="207.00" stroke="#222" stroke-width="0.9"/>
<line x1="462.16" y1="348.50" x2="462.16" y2="350.50" stroke="#222" stroke-width="0.9"/>
<line x1="472.42" y1="205.00" x2="472.42" y2="207.00" stroke="#222" stroke-width="0.9"/>
<line x1="472.42" y1="348.50" x2="472.42" y2="350.50" stroke="#222" stroke-width="0.9"/>
<line x1="480.81" y1="205.00" x2="480.81" y2="207.00" stroke="#222" stroke-width="0.9"/>
<line x1="480.81" y1="348.50" x2="480.81" y2="350.50" stroke="#222" stroke-width="0.9"/>
<line x1="487.90" y1="205.00" x2="487.90" y2="207.00" stroke="#222" stroke-width="0.9"/>
<line x1="487.90" y1="348.50" x2="487.90" y2="350.50" stroke="#222" stroke-width="0.9"/>
<line x1="494.04" y1="205.00" x2="494.04" y2="207.00" stroke="#222" stroke-width="0.9"/>
<line x1="494.04" y1="348.50" x2="494.04" y2="350.50" stroke="#222" stroke-width="0.9"/>
<line x1="499.45" y1="205.00" x2="499.45" y2="207.00" stroke="#222" stroke-width="0.9"/>
<line x1="499.45" y1="348.50" x2="499.45" y2="350.50" stroke="#222" stroke-width="0.9"/>
<line x1="504.30" y1="203.00" x2="504.30" y2="207.00" stroke="#222" stroke-width="0.9"/>
<line x1="504.30" y1="348.50" x2="504.30" y2="352.50" stroke="#222" stroke-width="0.9"/>
<text x="504.55" y="367.40" font-size="9.6" text-anchor="middle" font-weight="bold" letter-spacing="0.5" stroke="#111" stroke-width="0.22">10000</text>
<text transform="translate(296.40,233.90) scale(0.93,1)" font-size="29" text-anchor="start" font-weight="bold"  stroke="#111" stroke-width="0.5">E</text>
<text x="391.80" y="384.10" font-size="12.4" text-anchor="middle" font-weight="bold"  stroke="#111" stroke-width="0.3">Serum Ferritin [µg/L]</text>
<circle cx="328.20" cy="323.40" r="3.05" fill="none" stroke="#222" stroke-width="1"/>
<circle cx="329.20" cy="329.20" r="3.05" fill="none" stroke="#222" stroke-width="1"/>
<circle cx="326.20" cy="336.90" r="3.05" fill="none" stroke="#222" stroke-width="1"/>
<circle cx="330.00" cy="341.20" r="3.05" fill="none" stroke="#222" stroke-width="1"/>
<circle cx="343.80" cy="320.30" r="3.05" fill="none" stroke="#222" stroke-width="1"/>
<circle cx="341.50" cy="338.80" r="3.05" fill="none" stroke="#222" stroke-width="1"/>
<circle cx="341.80" cy="345.10" r="3.05" fill="none" stroke="#222" stroke-width="1"/>
<circle cx="352.60" cy="332.30" r="3.05" fill="none" stroke="#222" stroke-width="1"/>
<circle cx="356.50" cy="343.10" r="3.05" fill="none" stroke="#222" stroke-width="1"/>
<circle cx="362.30" cy="328.20" r="3.05" fill="none" stroke="#222" stroke-width="1"/>
<circle cx="363.10" cy="336.50" r="3.05" fill="none" stroke="#222" stroke-width="1"/>
<circle cx="368.20" cy="326.20" r="3.05" fill="none" stroke="#222" stroke-width="1"/>
<circle cx="373.40" cy="328.20" r="3.05" fill="none" stroke="#222" stroke-width="1"/>
<circle cx="374.20" cy="328.90" r="3.05" fill="none" stroke="#222" stroke-width="1"/>
<circle cx="372.00" cy="340.30" r="3.05" fill="none" stroke="#222" stroke-width="1"/>
<circle cx="377.20" cy="336.50" r="3.05" fill="none" stroke="#222" stroke-width="1"/>
<circle cx="380.70" cy="323.00" r="3.05" fill="none" stroke="#222" stroke-width="1"/>
<circle cx="384.70" cy="326.10" r="3.05" fill="none" stroke="#222" stroke-width="1"/>
<circle cx="385.40" cy="332.40" r="3.05" fill="none" stroke="#222" stroke-width="1"/>
<circle cx="390.50" cy="325.30" r="3.05" fill="none" stroke="#222" stroke-width="1"/>
<circle cx="392.40" cy="334.40" r="3.05" fill="none" stroke="#222" stroke-width="1"/>
<circle cx="390.50" cy="341.50" r="3.05" fill="none" stroke="#222" stroke-width="1"/>
<circle cx="396.80" cy="329.70" r="3.05" fill="none" stroke="#222" stroke-width="1"/>
<circle cx="398.80" cy="330.10" r="3.05" fill="none" stroke="#222" stroke-width="1"/>
<circle cx="397.50" cy="340.10" r="3.05" fill="none" stroke="#222" stroke-width="1"/>
<circle cx="403.60" cy="323.00" r="3.05" fill="none" stroke="#222" stroke-width="1"/>
<circle cx="403.60" cy="335.80" r="3.05" fill="none" stroke="#222" stroke-width="1"/>
<circle cx="404.20" cy="337.80" r="3.05" fill="none" stroke="#222" stroke-width="1"/>
<circle cx="411.20" cy="323.00" r="3.05" fill="none" stroke="#222" stroke-width="1"/>
<circle cx="410.30" cy="327.00" r="3.05" fill="none" stroke="#222" stroke-width="1"/>
<circle cx="412.30" cy="330.40" r="3.05" fill="none" stroke="#222" stroke-width="1"/>
<circle cx="413.40" cy="331.70" r="3.05" fill="none" stroke="#222" stroke-width="1"/>
<circle cx="410.30" cy="344.50" r="3.05" fill="none" stroke="#222" stroke-width="1"/>
<circle cx="412.30" cy="341.80" r="3.05" fill="none" stroke="#222" stroke-width="1"/>
<circle cx="414.30" cy="341.10" r="3.05" fill="none" stroke="#222" stroke-width="1"/>
<circle cx="416.30" cy="341.80" r="3.05" fill="none" stroke="#222" stroke-width="1"/>
<circle cx="419.00" cy="343.80" r="3.05" fill="none" stroke="#222" stroke-width="1"/>
<circle cx="421.00" cy="343.20" r="3.05" fill="none" stroke="#222" stroke-width="1"/>
<circle cx="423.10" cy="341.80" r="3.05" fill="none" stroke="#222" stroke-width="1"/>
<circle cx="420.40" cy="328.40" r="3.05" fill="none" stroke="#222" stroke-width="1"/>
<circle cx="423.10" cy="327.70" r="3.05" fill="none" stroke="#222" stroke-width="1"/>
<circle cx="422.40" cy="333.10" r="3.05" fill="none" stroke="#222" stroke-width="1"/>
<circle cx="427.10" cy="328.40" r="3.05" fill="none" stroke="#222" stroke-width="1"/>
<circle cx="427.80" cy="332.40" r="3.05" fill="none" stroke="#222" stroke-width="1"/>
<circle cx="431.10" cy="330.40" r="3.05" fill="none" stroke="#222" stroke-width="1"/>
<circle cx="425.10" cy="320.30" r="3.05" fill="none" stroke="#222" stroke-width="1"/>
<circle cx="431.10" cy="316.90" r="3.05" fill="none" stroke="#222" stroke-width="1"/>
<circle cx="433.20" cy="321.60" r="3.05" fill="none" stroke="#222" stroke-width="1"/>
<circle cx="427.10" cy="339.80" r="3.05" fill="none" stroke="#222" stroke-width="1"/>
<circle cx="429.80" cy="344.20" r="3.05" fill="none" stroke="#222" stroke-width="1"/>
<circle cx="434.50" cy="336.40" r="3.05" fill="none" stroke="#222" stroke-width="1"/>
<circle cx="439.20" cy="341.10" r="3.05" fill="none" stroke="#222" stroke-width="1"/>
<circle cx="440.60" cy="326.30" r="3.05" fill="none" stroke="#222" stroke-width="1"/>
<circle cx="448.80" cy="335.20" r="3.05" fill="none" stroke="#222" stroke-width="1"/>
<circle cx="428.60" cy="296.00" r="3.05" fill="none" stroke="#222" stroke-width="1"/>
<circle cx="428.60" cy="290.40" r="3.05" fill="none" stroke="#222" stroke-width="1"/>
<circle cx="437.40" cy="297.60" r="3.05" fill="none" stroke="#222" stroke-width="1"/>
<circle cx="435.60" cy="301.50" r="3.05" fill="none" stroke="#222" stroke-width="1"/>
<circle cx="436.40" cy="304.50" r="3.05" fill="none" stroke="#222" stroke-width="1"/>
<circle cx="439.90" cy="310.90" r="3.05" fill="none" stroke="#222" stroke-width="1"/>
<circle cx="438.50" cy="314.20" r="3.05" fill="none" stroke="#222" stroke-width="1"/>
<circle cx="444.50" cy="304.60" r="3.05" fill="none" stroke="#222" stroke-width="1"/>
<circle cx="446.20" cy="297.00" r="3.05" fill="none" stroke="#222" stroke-width="1"/>
<circle cx="449.00" cy="300.80" r="3.05" fill="none" stroke="#222" stroke-width="1"/>
<circle cx="450.30" cy="296.60" r="3.05" fill="none" stroke="#222" stroke-width="1"/>
<circle cx="456.80" cy="303.60" r="3.05" fill="none" stroke="#222" stroke-width="1"/>
<circle cx="461.40" cy="300.80" r="3.05" fill="none" stroke="#222" stroke-width="1"/>
<circle cx="469.90" cy="303.40" r="3.05" fill="none" stroke="#222" stroke-width="1"/>
<circle cx="466.20" cy="307.00" r="3.05" fill="none" stroke="#222" stroke-width="1"/>
<circle cx="458.80" cy="314.60" r="3.05" fill="none" stroke="#222" stroke-width="1"/>
<circle cx="462.20" cy="313.60" r="3.05" fill="none" stroke="#222" stroke-width="1"/>
<circle cx="466.00" cy="318.30" r="3.05" fill="none" stroke="#222" stroke-width="1"/>
<circle cx="452.40" cy="321.60" r="3.05" fill="none" stroke="#222" stroke-width="1"/>
<circle cx="457.10" cy="325.30" r="3.05" fill="none" stroke="#222" stroke-width="1"/>
<circle cx="455.10" cy="331.50" r="3.05" fill="none" stroke="#222" stroke-width="1"/>
<circle cx="460.20" cy="342.90" r="3.05" fill="none" stroke="#222" stroke-width="1"/>
<circle cx="462.20" cy="342.20" r="3.05" fill="none" stroke="#222" stroke-width="1"/>
<circle cx="478.80" cy="291.00" r="3.05" fill="none" stroke="#222" stroke-width="1"/>
<circle cx="433.80" cy="276.80" r="3.05" fill="none" stroke="#222" stroke-width="1"/>
<circle cx="429.70" cy="281.20" r="3.05" fill="none" stroke="#222" stroke-width="1"/>
<circle cx="441.50" cy="275.30" r="3.05" fill="none" stroke="#222" stroke-width="1"/>
<circle cx="443.40" cy="275.30" r="3.05" fill="none" stroke="#222" stroke-width="1"/>
<circle cx="456.90" cy="275.30" r="3.05" fill="none" stroke="#222" stroke-width="1"/>
<circle cx="463.10" cy="269.90" r="3.05" fill="none" stroke="#222" stroke-width="1"/>
<circle cx="465.70" cy="269.60" r="3.05" fill="none" stroke="#222" stroke-width="1"/>
<circle cx="471.80" cy="274.20" r="3.05" fill="none" stroke="#222" stroke-width="1"/>
<circle cx="475.80" cy="272.20" r="3.05" fill="none" stroke="#222" stroke-width="1"/>
<circle cx="483.50" cy="270.40" r="3.05" fill="none" stroke="#222" stroke-width="1"/>
<circle cx="490.30" cy="280.40" r="3.05" fill="none" stroke="#222" stroke-width="1"/>
<circle cx="459.20" cy="283.50" r="3.05" fill="none" stroke="#222" stroke-width="1"/>
<circle cx="459.20" cy="286.20" r="3.05" fill="none" stroke="#222" stroke-width="1"/>
<circle cx="454.20" cy="225.90" r="3.05" fill="none" stroke="#222" stroke-width="1"/>
<circle cx="456.20" cy="237.80" r="3.05" fill="none" stroke="#222" stroke-width="1"/>
<circle cx="482.00" cy="237.30" r="3.05" fill="none" stroke="#222" stroke-width="1"/>
<circle cx="478.50" cy="241.60" r="3.05" fill="none" stroke="#222" stroke-width="1"/>
<path d="M293.00,332.30 C307.50,332.28 362.17,332.28 380.00,332.20 C397.83,332.12 395.10,331.97 400.00,331.80 C404.90,331.63 406.57,331.73 409.40,331.20 C412.23,330.67 414.40,330.08 417.00,328.60 C419.60,327.12 422.73,324.02 425.00,322.30 C427.27,320.58 429.00,319.52 430.60,318.30 C432.20,317.08 432.33,316.55 434.60,315.00 C436.87,313.45 441.00,311.12 444.20,309.00 C447.40,306.88 450.58,305.02 453.80,302.30 C457.02,299.58 460.42,295.75 463.50,292.70 C466.58,289.65 469.30,287.58 472.30,284.00 C475.30,280.42 478.80,275.00 481.50,271.20 C484.20,267.40 487.33,262.87 488.50,261.20" fill="none" stroke="#222" stroke-width="1"/>
<text transform="translate(10.4,173.5) rotate(-90)" font-size="12.6" font-weight="bold" text-anchor="middle" stroke="#111" stroke-width="0.3">Myocardial iron [µmol/g]</text>
<text transform="translate(14.2,467) rotate(-90)" font-size="12.6" font-weight="bold" text-anchor="middle" stroke="#111" stroke-width="0.3">Urinary Iron [mg/24 h]</text>
</svg>
</body></html>
